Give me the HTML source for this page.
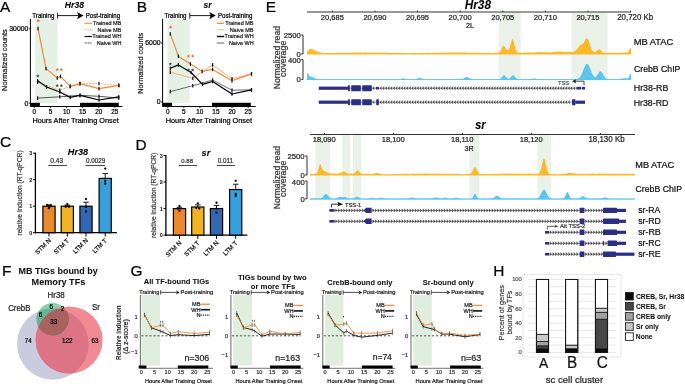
<!DOCTYPE html>
<html><head><meta charset="utf-8"><style>
html,body{margin:0;padding:0;background:#fff;width:685px;height:384px;overflow:hidden}
svg{display:block;will-change:transform}
text{font-family:"Liberation Sans", sans-serif;stroke:currentColor;stroke-width:0.22px}
text[font-weight=bold]{stroke-width:0.05px}
</style></head><body>
<svg width="685" height="384" viewBox="0 0 685 384">
<rect x="35.20" y="19.00" width="22.20" height="84.00" fill="#e5f1e4"/>
<text transform="translate(0.00,11.70) scale(1,1.0)" font-size="15.40" fill="#000" color="#000">A</text>
<text transform="translate(64.83,7.60) scale(1,1.04)" font-size="8.62" fill="#000" color="#000" font-weight="bold" font-style="italic">Hr38</text>
<text transform="translate(32.28,17.50) scale(1,1.04)" font-size="6.19" fill="#000" color="#000">Training</text>
<line x1="57.60" y1="12.80" x2="57.60" y2="18.60" stroke="#000" stroke-width="0.9"/>
<line x1="57.60" y1="15.60" x2="79.40" y2="15.60" stroke="#000" stroke-width="0.9"/>
<path d="M83.6,15.6 L77.0,12.0 L78.6,15.6 L77.0,19.2 Z" stroke="none" stroke-width="1" fill="#000"/>
<text transform="translate(85.71,17.50) scale(1,1.04)" font-size="6.14" fill="#000" color="#000">Post-training</text>
<line x1="30.40" y1="19.00" x2="30.40" y2="106.50" stroke="#000" stroke-width="1"/>
<line x1="30.40" y1="106.50" x2="122.40" y2="106.50" stroke="#000" stroke-width="1"/>
<rect x="30.40" y="102.80" width="9.50" height="3.90" fill="#000"/>
<rect x="80.00" y="102.80" width="38.80" height="3.90" fill="#000"/>
<text transform="translate(9.26,31.20) scale(1,1.04)" font-size="6.90" fill="#000" color="#000">30000</text>
<line x1="28.80" y1="28.80" x2="30.40" y2="28.80" stroke="#000" stroke-width="0.8"/>
<text transform="translate(24.61,105.60) scale(1,1.04)" font-size="6.90" fill="#000" color="#000">0</text>
<line x1="28.80" y1="103.20" x2="30.40" y2="103.20" stroke="#000" stroke-width="0.8"/>
<line x1="34.40" y1="106.50" x2="34.40" y2="108.20" stroke="#000" stroke-width="0.8"/>
<text transform="translate(32.61,114.40) scale(1,1.04)" font-size="6.40" fill="#000" color="#000">0</text>
<line x1="50.50" y1="106.50" x2="50.50" y2="108.20" stroke="#000" stroke-width="0.8"/>
<text transform="translate(48.72,114.40) scale(1,1.04)" font-size="6.40" fill="#000" color="#000">5</text>
<line x1="66.60" y1="106.50" x2="66.60" y2="108.20" stroke="#000" stroke-width="0.8"/>
<text transform="translate(62.92,114.40) scale(1,1.04)" font-size="6.40" fill="#000" color="#000">10</text>
<line x1="82.70" y1="106.50" x2="82.70" y2="108.20" stroke="#000" stroke-width="0.8"/>
<text transform="translate(79.04,114.40) scale(1,1.04)" font-size="6.40" fill="#000" color="#000">15</text>
<line x1="98.80" y1="106.50" x2="98.80" y2="108.20" stroke="#000" stroke-width="0.8"/>
<text transform="translate(95.20,114.40) scale(1,1.04)" font-size="6.40" fill="#000" color="#000">20</text>
<line x1="114.90" y1="106.50" x2="114.90" y2="108.20" stroke="#000" stroke-width="0.8"/>
<text transform="translate(111.32,114.40) scale(1,1.04)" font-size="6.40" fill="#000" color="#000">25</text>
<text transform="translate(32.41,123.00) scale(1,1.04)" font-size="7.35" fill="#000" color="#000">Hours After Training Onset</text>
<text transform="translate(3.90,59.90) rotate(-90) translate(-31.10,2.78) scale(1,1.04)" x="0" y="0" font-size="7.47" fill="#222" color="#222">Normalized counts</text>
<line x1="84.60" y1="23.30" x2="92.00" y2="23.30" stroke="#f08a3c" stroke-width="1.1"/>
<text transform="translate(93.06,25.20) scale(1,1.04)" font-size="5.50" fill="#222" color="#222">Trained MB</text>
<line x1="84.60" y1="29.80" x2="92.00" y2="29.80" stroke="#f5a86a" stroke-width="1.0" stroke-dasharray="1.2,0.6"/>
<text transform="translate(97.43,31.70) scale(1,1.04)" font-size="5.50" fill="#222" color="#222">Naive MB</text>
<line x1="84.60" y1="36.50" x2="92.00" y2="36.50" stroke="#000" stroke-width="1.2"/>
<text transform="translate(92.32,38.40) scale(1,1.04)" font-size="5.50" fill="#222" color="#222">Trained WH</text>
<line x1="84.60" y1="43.00" x2="92.00" y2="43.00" stroke="#888" stroke-width="1.3" stroke-dasharray="1.2,0.5"/>
<text transform="translate(96.69,44.90) scale(1,1.04)" font-size="5.50" fill="#222" color="#222">Naive WH</text>
<polyline points="37.60,82.20 59.80,90.20 70.20,86.40 80.00,83.60 99.00,83.60 118.80,85.40" stroke="#f5a86a" stroke-width="0.9" fill="none" stroke-linejoin="round" stroke-dasharray="2,1"/>
<rect x="37.00" y="80.40" width="1.20" height="3.60" fill="#111"/>
<rect x="59.20" y="88.40" width="1.20" height="3.60" fill="#111"/>
<rect x="69.60" y="84.60" width="1.20" height="3.60" fill="#111"/>
<rect x="79.40" y="81.80" width="1.20" height="3.60" fill="#111"/>
<rect x="98.40" y="81.80" width="1.20" height="3.60" fill="#111"/>
<rect x="118.20" y="83.60" width="1.20" height="3.60" fill="#111"/>
<polyline points="37.60,98.10 59.80,96.80 80.00,95.40 99.00,96.30 118.80,98.10" stroke="#222" stroke-width="0.75" fill="none" stroke-linejoin="round"/>
<rect x="37.00" y="96.30" width="1.20" height="3.60" fill="#111"/>
<rect x="59.20" y="95.00" width="1.20" height="3.60" fill="#111"/>
<rect x="79.40" y="93.60" width="1.20" height="3.60" fill="#111"/>
<rect x="98.40" y="94.50" width="1.20" height="3.60" fill="#111"/>
<rect x="118.20" y="96.30" width="1.20" height="3.60" fill="#111"/>
<polyline points="37.60,80.80 46.60,87.00 59.80,92.00 70.20,97.40 80.00,95.40 99.00,100.00 118.80,96.80" stroke="#000" stroke-width="1.2" fill="none" stroke-linejoin="round"/>
<rect x="37.00" y="79.00" width="1.20" height="3.60" fill="#111"/>
<rect x="46.00" y="85.20" width="1.20" height="3.60" fill="#111"/>
<rect x="59.20" y="90.20" width="1.20" height="3.60" fill="#111"/>
<rect x="69.60" y="95.60" width="1.20" height="3.60" fill="#111"/>
<rect x="79.40" y="93.60" width="1.20" height="3.60" fill="#111"/>
<rect x="98.40" y="98.20" width="1.20" height="3.60" fill="#111"/>
<rect x="118.20" y="95.00" width="1.20" height="3.60" fill="#111"/>
<polyline points="38.00,28.50 46.00,68.60 57.30,78.00 60.50,76.40 70.20,86.40 80.00,83.60 99.00,88.70 118.80,85.40" stroke="#f08a3c" stroke-width="1.2" fill="none" stroke-linejoin="round"/>
<rect x="37.40" y="26.70" width="1.20" height="3.60" fill="#111"/>
<rect x="45.40" y="66.80" width="1.20" height="3.60" fill="#111"/>
<rect x="56.70" y="76.20" width="1.20" height="3.60" fill="#111"/>
<rect x="59.90" y="74.60" width="1.20" height="3.60" fill="#111"/>
<rect x="69.60" y="84.60" width="1.20" height="3.60" fill="#111"/>
<rect x="79.40" y="81.80" width="1.20" height="3.60" fill="#111"/>
<rect x="98.40" y="86.90" width="1.20" height="3.60" fill="#111"/>
<rect x="118.20" y="83.60" width="1.20" height="3.60" fill="#111"/>
<polygon points="38.30,18.95 38.80,20.11 40.06,20.23 39.11,21.06 39.39,22.30 38.30,21.65 37.21,22.30 37.49,21.06 36.54,20.23 37.80,20.11" fill="#f26b2d"/>
<polygon points="57.20,67.75 57.70,68.91 58.96,69.03 58.01,69.86 58.29,71.10 57.20,70.45 56.11,71.10 56.39,69.86 55.44,69.03 56.70,68.91" fill="#f26b2d"/>
<polygon points="61.40,67.75 61.90,68.91 63.16,69.03 62.21,69.86 62.49,71.10 61.40,70.45 60.31,71.10 60.59,69.86 59.64,69.03 60.90,68.91" fill="#f26b2d"/>
<polygon points="37.80,74.15 38.30,75.31 39.56,75.43 38.61,76.26 38.89,77.50 37.80,76.85 36.71,77.50 36.99,76.26 36.04,75.43 37.30,75.31" fill="#444"/>
<polygon points="57.20,83.75 57.70,84.91 58.96,85.03 58.01,85.86 58.29,87.10 57.20,86.45 56.11,87.10 56.39,85.86 55.44,85.03 56.70,84.91" fill="#444"/>
<polygon points="61.40,83.75 61.90,84.91 63.16,85.03 62.21,85.86 62.49,87.10 61.40,86.45 60.31,87.10 60.59,85.86 59.64,85.03 60.90,84.91" fill="#444"/>
<rect x="167.40" y="19.00" width="22.20" height="84.00" fill="#e5f1e4"/>
<text transform="translate(136.77,11.70) scale(1,1.0)" font-size="15.40" fill="#000" color="#000">B</text>
<text transform="translate(203.51,7.60) scale(1,1.04)" font-size="8.57" fill="#000" color="#000" font-weight="bold" font-style="italic">sr</text>
<text transform="translate(164.48,17.50) scale(1,1.04)" font-size="6.19" fill="#000" color="#000">Training</text>
<line x1="189.80" y1="12.80" x2="189.80" y2="18.60" stroke="#000" stroke-width="0.9"/>
<line x1="189.80" y1="15.60" x2="211.60" y2="15.60" stroke="#000" stroke-width="0.9"/>
<path d="M215.8,15.6 L209.2,12.0 L210.8,15.6 L209.2,19.2 Z" stroke="none" stroke-width="1" fill="#000"/>
<text transform="translate(217.91,17.50) scale(1,1.04)" font-size="6.14" fill="#000" color="#000">Post-training</text>
<line x1="162.60" y1="19.00" x2="162.60" y2="106.50" stroke="#000" stroke-width="1"/>
<line x1="162.60" y1="106.50" x2="255.70" y2="106.50" stroke="#000" stroke-width="1"/>
<rect x="162.60" y="102.80" width="9.50" height="3.90" fill="#000"/>
<rect x="212.00" y="102.80" width="38.80" height="3.90" fill="#000"/>
<text transform="translate(145.29,45.30) scale(1,1.04)" font-size="6.90" fill="#000" color="#000">6000</text>
<line x1="161.00" y1="42.90" x2="162.60" y2="42.90" stroke="#000" stroke-width="0.8"/>
<text transform="translate(156.81,104.40) scale(1,1.04)" font-size="6.90" fill="#000" color="#000">0</text>
<line x1="161.00" y1="102.00" x2="162.60" y2="102.00" stroke="#000" stroke-width="0.8"/>
<line x1="167.70" y1="106.50" x2="167.70" y2="108.20" stroke="#000" stroke-width="0.8"/>
<text transform="translate(165.91,114.40) scale(1,1.04)" font-size="6.40" fill="#000" color="#000">0</text>
<line x1="183.80" y1="106.50" x2="183.80" y2="108.20" stroke="#000" stroke-width="0.8"/>
<text transform="translate(182.02,114.40) scale(1,1.04)" font-size="6.40" fill="#000" color="#000">5</text>
<line x1="199.90" y1="106.50" x2="199.90" y2="108.20" stroke="#000" stroke-width="0.8"/>
<text transform="translate(196.22,114.40) scale(1,1.04)" font-size="6.40" fill="#000" color="#000">10</text>
<line x1="216.00" y1="106.50" x2="216.00" y2="108.20" stroke="#000" stroke-width="0.8"/>
<text transform="translate(212.34,114.40) scale(1,1.04)" font-size="6.40" fill="#000" color="#000">15</text>
<line x1="232.10" y1="106.50" x2="232.10" y2="108.20" stroke="#000" stroke-width="0.8"/>
<text transform="translate(228.50,114.40) scale(1,1.04)" font-size="6.40" fill="#000" color="#000">20</text>
<line x1="248.20" y1="106.50" x2="248.20" y2="108.20" stroke="#000" stroke-width="0.8"/>
<text transform="translate(244.62,114.40) scale(1,1.04)" font-size="6.40" fill="#000" color="#000">25</text>
<text transform="translate(165.71,123.00) scale(1,1.04)" font-size="7.35" fill="#000" color="#000">Hours After Training Onset</text>
<text transform="translate(140.00,63.00) rotate(-90) translate(-30.69,2.74) scale(1,1.04)" x="0" y="0" font-size="7.37" fill="#222" color="#222">Normalized counts</text>
<line x1="216.80" y1="23.30" x2="224.20" y2="23.30" stroke="#f08a3c" stroke-width="1.3"/>
<text transform="translate(225.26,25.20) scale(1,1.04)" font-size="5.50" fill="#222" color="#222">Trained MB</text>
<line x1="216.80" y1="29.80" x2="224.20" y2="29.80" stroke="#f5a86a" stroke-width="0.8"/>
<text transform="translate(229.63,31.70) scale(1,1.04)" font-size="5.50" fill="#222" color="#222">Naive MB</text>
<line x1="216.80" y1="36.50" x2="224.20" y2="36.50" stroke="#000" stroke-width="1.4"/>
<text transform="translate(224.52,38.40) scale(1,1.04)" font-size="5.50" fill="#222" color="#222">Trained WH</text>
<line x1="216.80" y1="43.00" x2="224.20" y2="43.00" stroke="#222" stroke-width="0.7"/>
<text transform="translate(228.89,44.90) scale(1,1.04)" font-size="5.50" fill="#222" color="#222">Naive WH</text>
<polyline points="170.30,72.20 192.80,78.30 212.60,64.90 232.00,78.70 251.50,73.90" stroke="#f5a86a" stroke-width="0.9" fill="none" stroke-linejoin="round"/>
<rect x="169.70" y="70.40" width="1.20" height="3.60" fill="#111"/>
<rect x="192.20" y="76.50" width="1.20" height="3.60" fill="#111"/>
<rect x="212.00" y="63.10" width="1.20" height="3.60" fill="#111"/>
<rect x="231.40" y="76.90" width="1.20" height="3.60" fill="#111"/>
<rect x="250.90" y="72.10" width="1.20" height="3.60" fill="#111"/>
<polyline points="170.30,91.60 192.80,85.70 212.60,80.10 232.00,90.20 251.50,89.80" stroke="#333" stroke-width="0.7" fill="none" stroke-linejoin="round"/>
<rect x="169.70" y="89.80" width="1.20" height="3.60" fill="#111"/>
<rect x="192.20" y="83.90" width="1.20" height="3.60" fill="#111"/>
<rect x="212.00" y="78.30" width="1.20" height="3.60" fill="#111"/>
<rect x="231.40" y="88.40" width="1.20" height="3.60" fill="#111"/>
<rect x="250.90" y="88.00" width="1.20" height="3.60" fill="#111"/>
<polyline points="170.30,68.30 178.40,64.90 191.10,72.50 202.50,84.30 212.60,81.50 232.00,94.00 251.50,89.80" stroke="#000" stroke-width="1.2" fill="none" stroke-linejoin="round"/>
<rect x="169.70" y="66.50" width="1.20" height="3.60" fill="#111"/>
<rect x="177.80" y="63.10" width="1.20" height="3.60" fill="#111"/>
<rect x="190.50" y="70.70" width="1.20" height="3.60" fill="#111"/>
<rect x="201.90" y="82.50" width="1.20" height="3.60" fill="#111"/>
<rect x="212.00" y="79.70" width="1.20" height="3.60" fill="#111"/>
<rect x="231.40" y="92.20" width="1.20" height="3.60" fill="#111"/>
<rect x="250.90" y="88.00" width="1.20" height="3.60" fill="#111"/>
<polyline points="170.30,33.90 178.40,56.30 190.40,64.10 202.20,71.40 212.60,69.40 232.00,80.80 251.50,73.90" stroke="#f08a3c" stroke-width="1.2" fill="none" stroke-linejoin="round"/>
<rect x="169.70" y="32.10" width="1.20" height="3.60" fill="#111"/>
<rect x="177.80" y="54.50" width="1.20" height="3.60" fill="#111"/>
<rect x="189.80" y="62.30" width="1.20" height="3.60" fill="#111"/>
<rect x="201.60" y="69.60" width="1.20" height="3.60" fill="#111"/>
<rect x="212.00" y="67.60" width="1.20" height="3.60" fill="#111"/>
<rect x="231.40" y="79.00" width="1.20" height="3.60" fill="#111"/>
<rect x="250.90" y="72.10" width="1.20" height="3.60" fill="#111"/>
<polygon points="170.60,25.35 171.10,26.51 172.36,26.63 171.41,27.46 171.69,28.70 170.60,28.05 169.51,28.70 169.79,27.46 168.84,26.63 170.10,26.51" fill="#f26b2d"/>
<polygon points="188.50,54.35 189.00,55.51 190.26,55.63 189.31,56.46 189.59,57.70 188.50,57.05 187.41,57.70 187.69,56.46 186.74,55.63 188.00,55.51" fill="#f26b2d"/>
<polygon points="192.70,54.35 193.20,55.51 194.46,55.63 193.51,56.46 193.79,57.70 192.70,57.05 191.61,57.70 191.89,56.46 190.94,55.63 192.20,55.51" fill="#f26b2d"/>
<polygon points="170.40,62.15 170.90,63.31 172.16,63.43 171.21,64.26 171.49,65.50 170.40,64.85 169.31,65.50 169.59,64.26 168.64,63.43 169.90,63.31" fill="#444"/>
<polygon points="188.50,68.15 189.00,69.31 190.26,69.43 189.31,70.26 189.59,71.50 188.50,70.85 187.41,71.50 187.69,70.26 186.74,69.43 188.00,69.31" fill="#444"/>
<polygon points="192.70,68.15 193.20,69.31 194.46,69.43 193.51,70.26 193.79,71.50 192.70,70.85 191.61,71.50 191.89,70.26 190.94,69.43 192.20,69.31" fill="#444"/>
<text transform="translate(265.77,12.10) scale(1,1.0)" font-size="15.40" fill="#000" color="#000">E</text>
<rect x="499.00" y="12.50" width="21.60" height="67.00" fill="#eaf1e8"/>
<rect x="571.60" y="12.50" width="36.00" height="67.00" fill="#eaf1e8"/>
<text transform="translate(464.76,8.60) scale(1,1.04)" font-size="11.79" fill="#000" color="#000" font-weight="bold" font-style="italic">Hr38</text>
<line x1="307.00" y1="12.00" x2="631.00" y2="12.00" stroke="#333" stroke-width="1"/>
<line x1="332.40" y1="10.60" x2="332.40" y2="12.00" stroke="#222" stroke-width="0.95"/>
<text transform="translate(320.81,20.20) scale(1,1.04)" font-size="7.55" fill="#222" color="#222">20,685</text>
<line x1="375.00" y1="10.60" x2="375.00" y2="12.00" stroke="#222" stroke-width="0.95"/>
<text transform="translate(363.39,20.20) scale(1,1.04)" font-size="7.55" fill="#222" color="#222">20,690</text>
<line x1="417.60" y1="10.60" x2="417.60" y2="12.00" stroke="#222" stroke-width="0.95"/>
<text transform="translate(406.01,20.20) scale(1,1.04)" font-size="7.55" fill="#222" color="#222">20,695</text>
<line x1="460.20" y1="10.60" x2="460.20" y2="12.00" stroke="#222" stroke-width="0.95"/>
<text transform="translate(448.59,20.20) scale(1,1.04)" font-size="7.55" fill="#222" color="#222">20,700</text>
<line x1="502.80" y1="10.60" x2="502.80" y2="12.00" stroke="#222" stroke-width="0.95"/>
<text transform="translate(491.21,20.20) scale(1,1.04)" font-size="7.55" fill="#222" color="#222">20,705</text>
<line x1="545.40" y1="10.60" x2="545.40" y2="12.00" stroke="#222" stroke-width="0.95"/>
<text transform="translate(533.79,20.20) scale(1,1.04)" font-size="7.55" fill="#222" color="#222">20,710</text>
<line x1="588.00" y1="10.60" x2="588.00" y2="12.00" stroke="#222" stroke-width="0.95"/>
<text transform="translate(576.41,20.20) scale(1,1.04)" font-size="7.55" fill="#222" color="#222">20,715</text>
<line x1="630.60" y1="10.60" x2="630.60" y2="12.00" stroke="#222" stroke-width="0.95"/>
<text transform="translate(617.20,20.20) scale(1,1.04)" font-size="7.92" fill="#222" color="#222">20,720 Kb</text>
<text transform="translate(465.93,28.20) scale(1,1.04)" font-size="7.20" fill="#222" color="#222">2L</text>
<line x1="303.00" y1="35.00" x2="303.00" y2="54.00" stroke="#222" stroke-width="0.95"/>
<line x1="301.20" y1="35.00" x2="303.00" y2="35.00" stroke="#222" stroke-width="0.95"/>
<line x1="301.20" y1="54.00" x2="303.00" y2="54.00" stroke="#222" stroke-width="0.95"/>
<text transform="translate(283.74,37.70) scale(1,1.04)" font-size="7.70" fill="#222" color="#222">2500</text>
<text transform="translate(296.60,56.60) scale(1,1.04)" font-size="7.70" fill="#222" color="#222">0</text>
<line x1="303.00" y1="59.50" x2="303.00" y2="79.40" stroke="#222" stroke-width="0.95"/>
<line x1="301.20" y1="59.50" x2="303.00" y2="59.50" stroke="#222" stroke-width="0.95"/>
<line x1="301.20" y1="79.40" x2="303.00" y2="79.40" stroke="#222" stroke-width="0.95"/>
<text transform="translate(288.05,63.10) scale(1,1.04)" font-size="7.70" fill="#222" color="#222">400</text>
<text transform="translate(296.60,82.20) scale(1,1.04)" font-size="7.70" fill="#222" color="#222">0</text>
<text transform="translate(276.60,57.50) rotate(-90) translate(-31.69,3.21) scale(1,1.04)" x="0" y="0" font-size="8.62" fill="#333" color="#333">Normalized read</text>
<text transform="translate(284.30,58.80) rotate(-90) translate(-18.10,1.51) scale(1,1.04)" x="0" y="0" font-size="8.81" fill="#333" color="#333">coverage</text>
<path d="M307.00,54.60 L307.00,51.77 L307.50,51.10 L308.00,50.71 L308.50,50.46 L309.00,49.93 L309.50,49.55 L310.00,49.14 L310.50,48.87 L311.00,49.05 L311.50,49.09 L312.00,48.89 L312.50,49.26 L313.00,49.41 L313.50,50.02 L314.00,50.16 L314.50,50.34 L315.00,50.81 L315.50,50.76 L316.00,50.98 L316.50,51.51 L317.00,51.68 L317.50,51.62 L318.00,51.60 L318.50,51.96 L319.00,52.17 L319.50,52.22 L320.00,52.51 L320.50,52.55 L321.00,52.57 L321.50,52.65 L322.00,52.84 L322.50,52.91 L323.00,52.98 L323.50,52.93 L324.00,53.04 L324.50,53.17 L325.00,52.86 L325.50,52.99 L326.00,52.96 L326.50,53.16 L327.00,52.83 L327.50,52.89 L328.00,53.18 L328.50,53.10 L329.00,52.93 L329.50,52.94 L330.00,52.84 L330.50,53.04 L331.00,52.87 L331.50,52.93 L332.00,53.07 L332.50,52.95 L333.00,52.83 L333.50,52.84 L334.00,52.97 L334.50,52.93 L335.00,53.14 L335.50,53.05 L336.00,52.82 L336.50,52.97 L337.00,53.06 L337.50,52.90 L338.00,52.83 L338.50,52.83 L339.00,52.94 L339.50,52.91 L340.00,52.87 L340.50,52.75 L341.00,52.85 L341.50,52.89 L342.00,52.84 L342.50,53.02 L343.00,53.00 L343.50,52.73 L344.00,52.60 L344.50,52.75 L345.00,52.82 L345.50,52.90 L346.00,52.76 L346.50,52.56 L347.00,52.63 L347.50,52.72 L348.00,52.58 L348.50,52.82 L349.00,52.70 L349.50,52.51 L350.00,52.66 L350.50,52.70 L351.00,52.76 L351.50,52.64 L352.00,52.47 L352.50,52.85 L353.00,52.52 L353.50,52.50 L354.00,52.47 L354.50,52.52 L355.00,52.48 L355.50,52.59 L356.00,52.57 L356.50,52.62 L357.00,52.76 L357.50,52.42 L358.00,52.54 L358.50,52.69 L359.00,52.56 L359.50,52.56 L360.00,52.61 L360.50,52.61 L361.00,52.52 L361.50,52.49 L362.00,52.49 L362.50,52.55 L363.00,52.72 L363.50,52.63 L364.00,52.65 L364.50,52.49 L365.00,52.37 L365.50,52.40 L366.00,52.40 L366.50,52.39 L367.00,52.61 L367.50,52.38 L368.00,52.45 L368.50,52.68 L369.00,52.71 L369.50,52.72 L370.00,52.42 L370.50,52.62 L371.00,52.68 L371.50,52.48 L372.00,52.59 L372.50,52.71 L373.00,52.67 L373.50,52.53 L374.00,52.68 L374.50,52.64 L375.00,52.47 L375.50,52.58 L376.00,52.64 L376.50,52.58 L377.00,52.77 L377.50,52.63 L378.00,52.62 L378.50,52.72 L379.00,52.76 L379.50,52.45 L380.00,52.61 L380.50,52.74 L381.00,52.59 L381.50,52.51 L382.00,52.84 L382.50,52.85 L383.00,52.81 L383.50,52.58 L384.00,52.82 L384.50,52.61 L385.00,52.63 L385.50,52.69 L386.00,52.83 L386.50,52.53 L387.00,52.61 L387.50,52.74 L388.00,52.87 L388.50,52.70 L389.00,52.82 L389.50,52.75 L390.00,52.86 L390.50,52.75 L391.00,52.99 L391.50,52.90 L392.00,52.64 L392.50,52.69 L393.00,52.93 L393.50,52.71 L394.00,52.94 L394.50,52.70 L395.00,52.79 L395.50,52.93 L396.00,53.00 L396.50,53.11 L397.00,52.76 L397.50,53.11 L398.00,52.80 L398.50,52.75 L399.00,52.92 L399.50,53.09 L400.00,52.82 L400.50,52.78 L401.00,52.90 L401.50,52.98 L402.00,53.04 L402.50,53.06 L403.00,53.12 L403.50,52.94 L404.00,53.04 L404.50,53.14 L405.00,53.18 L405.50,52.96 L406.00,53.11 L406.50,53.03 L407.00,53.11 L407.50,52.89 L408.00,52.88 L408.50,53.24 L409.00,53.17 L409.50,53.12 L410.00,52.85 L410.50,52.94 L411.00,53.12 L411.50,53.17 L412.00,52.98 L412.50,52.92 L413.00,52.88 L413.50,53.12 L414.00,52.90 L414.50,52.98 L415.00,53.06 L415.50,52.85 L416.00,53.15 L416.50,52.95 L417.00,53.21 L417.50,53.17 L418.00,52.87 L418.50,53.14 L419.00,52.92 L419.50,52.98 L420.00,52.88 L420.50,53.06 L421.00,53.07 L421.50,53.08 L422.00,52.84 L422.50,52.94 L423.00,52.80 L423.50,52.82 L424.00,53.11 L424.50,52.94 L425.00,53.11 L425.50,53.13 L426.00,53.11 L426.50,52.78 L427.00,52.80 L427.50,52.78 L428.00,52.97 L428.50,52.85 L429.00,52.77 L429.50,52.93 L430.00,52.84 L430.50,52.97 L431.00,53.02 L431.50,52.94 L432.00,52.67 L432.50,52.80 L433.00,52.64 L433.50,52.82 L434.00,52.88 L434.50,52.67 L435.00,52.64 L435.50,52.96 L436.00,52.69 L436.50,52.91 L437.00,52.89 L437.50,52.57 L438.00,52.91 L438.50,52.82 L439.00,52.50 L439.50,52.72 L440.00,52.84 L440.50,52.81 L441.00,52.77 L441.50,52.56 L442.00,52.81 L442.50,52.48 L443.00,52.68 L443.50,52.44 L444.00,52.45 L444.50,52.69 L445.00,52.70 L445.50,52.61 L446.00,52.75 L446.50,52.52 L447.00,52.76 L447.50,52.77 L448.00,52.37 L448.50,52.64 L449.00,52.52 L449.50,52.57 L450.00,52.62 L450.50,52.72 L451.00,52.37 L451.50,52.34 L452.00,52.34 L452.50,52.69 L453.00,52.64 L453.50,52.48 L454.00,52.33 L454.50,52.50 L455.00,52.44 L455.50,52.45 L456.00,52.61 L456.50,52.50 L457.00,52.59 L457.50,52.62 L458.00,52.69 L458.50,52.61 L459.00,52.32 L459.50,52.54 L460.00,52.46 L460.50,52.47 L461.00,52.35 L461.50,52.57 L462.00,52.61 L462.50,52.61 L463.00,52.61 L463.50,52.40 L464.00,52.39 L464.50,52.63 L465.00,52.62 L465.50,52.54 L466.00,52.54 L466.50,52.53 L467.00,52.68 L467.50,52.78 L468.00,52.70 L468.50,52.77 L469.00,52.58 L469.50,52.79 L470.00,52.79 L470.50,52.57 L471.00,52.72 L471.50,52.52 L472.00,52.65 L472.50,52.51 L473.00,52.81 L473.50,52.68 L474.00,52.57 L474.50,52.87 L475.00,52.52 L475.50,52.84 L476.00,52.61 L476.50,52.53 L477.00,52.61 L477.50,52.82 L478.00,52.92 L478.50,52.76 L479.00,52.61 L479.50,52.87 L480.00,52.64 L480.50,52.95 L481.00,52.65 L481.50,53.01 L482.00,52.91 L482.50,52.68 L483.00,52.73 L483.50,52.70 L484.00,52.73 L484.50,52.78 L485.00,52.81 L485.50,53.03 L486.00,52.93 L486.50,53.05 L487.00,52.83 L487.50,52.86 L488.00,53.04 L488.50,53.12 L489.00,52.76 L489.50,52.83 L490.00,52.94 L490.50,52.95 L491.00,52.82 L491.50,52.99 L492.00,53.01 L492.50,53.03 L493.00,53.05 L493.50,53.14 L494.00,52.87 L494.50,52.94 L495.00,52.86 L495.50,53.03 L496.00,52.87 L496.50,52.91 L497.00,52.85 L497.50,52.72 L498.00,52.40 L498.50,52.45 L499.00,52.27 L499.50,51.91 L500.00,51.65 L500.50,51.12 L501.00,50.04 L501.50,48.97 L502.00,47.73 L502.50,46.72 L503.00,45.83 L503.50,45.51 L504.00,45.94 L504.50,46.50 L505.00,47.41 L505.50,48.44 L506.00,49.14 L506.50,49.65 L507.00,49.84 L507.50,49.95 L508.00,50.11 L508.50,49.61 L509.00,49.19 L509.50,48.14 L510.00,46.51 L510.50,44.57 L511.00,42.90 L511.50,40.85 L512.00,39.49 L512.50,39.21 L513.00,39.49 L513.50,40.72 L514.00,42.84 L514.50,44.90 L515.00,47.02 L515.50,48.90 L516.00,50.19 L516.50,51.16 L517.00,51.76 L517.50,52.30 L518.00,52.67 L518.50,52.76 L519.00,52.83 L519.50,52.73 L520.00,52.67 L520.50,52.97 L521.00,52.72 L521.50,52.71 L522.00,52.86 L522.50,52.79 L523.00,52.93 L523.50,52.70 L524.00,52.97 L524.50,52.58 L525.00,52.64 L525.50,52.71 L526.00,52.84 L526.50,52.57 L527.00,52.54 L527.50,52.87 L528.00,52.60 L528.50,52.56 L529.00,52.62 L529.50,52.59 L530.00,52.68 L530.50,52.46 L531.00,52.42 L531.50,52.64 L532.00,52.44 L532.50,52.56 L533.00,52.64 L533.50,52.53 L534.00,52.57 L534.50,52.21 L535.00,52.14 L535.50,52.43 L536.00,52.18 L536.50,52.21 L537.00,52.28 L537.50,52.16 L538.00,52.14 L538.50,51.90 L539.00,52.17 L539.50,52.08 L540.00,51.97 L540.50,52.14 L541.00,51.90 L541.50,51.93 L542.00,51.86 L542.50,52.15 L543.00,52.15 L543.50,52.09 L544.00,52.24 L544.50,52.16 L545.00,52.33 L545.50,52.19 L546.00,52.18 L546.50,52.20 L547.00,52.15 L547.50,52.34 L548.00,52.37 L548.50,52.23 L549.00,52.26 L549.50,52.32 L550.00,52.38 L550.50,52.40 L551.00,52.43 L551.50,52.11 L552.00,52.35 L552.50,52.04 L553.00,52.07 L553.50,51.84 L554.00,51.86 L554.50,51.71 L555.00,51.98 L555.50,51.76 L556.00,51.67 L556.50,51.71 L557.00,51.58 L557.50,51.58 L558.00,51.47 L558.50,51.65 L559.00,51.45 L559.50,51.43 L560.00,51.49 L560.50,51.46 L561.00,51.33 L561.50,51.40 L562.00,51.52 L562.50,51.51 L563.00,51.68 L563.50,51.81 L564.00,51.96 L564.50,51.91 L565.00,51.85 L565.50,51.80 L566.00,51.88 L566.50,52.06 L567.00,51.91 L567.50,52.16 L568.00,52.04 L568.50,52.23 L569.00,52.11 L569.50,52.01 L570.00,52.27 L570.50,52.30 L571.00,52.09 L571.50,52.08 L572.00,52.09 L572.50,52.15 L573.00,51.90 L573.50,51.77 L574.00,51.63 L574.50,51.24 L575.00,51.10 L575.50,50.71 L576.00,50.23 L576.50,49.79 L577.00,49.31 L577.50,48.55 L578.00,47.88 L578.50,47.16 L579.00,46.49 L579.50,45.98 L580.00,45.40 L580.50,45.03 L581.00,44.63 L581.50,44.48 L582.00,44.24 L582.50,43.97 L583.00,43.52 L583.50,42.99 L584.00,42.30 L584.50,41.41 L585.00,40.25 L585.50,39.27 L586.00,38.68 L586.50,38.42 L587.00,38.11 L587.50,38.65 L588.00,39.46 L588.50,40.78 L589.00,42.00 L589.50,43.45 L590.00,45.14 L590.50,46.65 L591.00,47.86 L591.50,49.26 L592.00,49.99 L592.50,50.53 L593.00,51.17 L593.50,51.67 L594.00,51.79 L594.50,51.94 L595.00,52.09 L595.50,51.96 L596.00,51.44 L596.50,51.32 L597.00,50.95 L597.50,50.16 L598.00,49.84 L598.50,49.57 L599.00,49.35 L599.50,49.30 L600.00,49.78 L600.50,50.00 L601.00,50.49 L601.50,50.98 L602.00,51.70 L602.50,51.99 L603.00,52.46 L603.50,52.56 L604.00,52.87 L604.50,52.71 L605.00,52.73 L605.50,52.97 L606.00,53.02 L606.50,52.72 L607.00,52.82 L607.50,52.76 L608.00,53.08 L608.50,52.72 L609.00,52.83 L609.50,52.94 L610.00,52.89 L610.50,52.74 L611.00,52.73 L611.50,52.96 L612.00,52.77 L612.50,52.95 L613.00,52.61 L613.50,52.82 L614.00,52.62 L614.50,52.68 L615.00,52.72 L615.50,52.85 L616.00,52.74 L616.50,52.88 L617.00,52.88 L617.50,52.63 L618.00,52.77 L618.50,52.60 L619.00,52.80 L619.50,52.60 L620.00,52.59 L620.50,52.75 L621.00,52.82 L621.50,52.69 L622.00,52.65 L622.50,52.80 L623.00,52.75 L623.50,52.80 L624.00,52.57 L624.50,52.45 L625.00,52.71 L625.50,52.78 L626.00,52.50 L626.50,52.45 L627.00,52.36 L627.50,52.40 L628.00,52.22 L628.50,51.36 L629.00,50.52 L629.50,48.95 L630.00,48.30 L630.50,48.28 L631.00,49.27 L631.00,54.60 Z" stroke="none" stroke-width="1" fill="#fbb829"/>
<path d="M307.00,80.00 L307.00,73.72 L307.50,73.05 L308.00,73.30 L308.50,74.16 L309.00,75.18 L309.50,76.02 L310.00,76.49 L310.50,76.66 L311.00,76.66 L311.50,76.67 L312.00,76.74 L312.50,76.91 L313.00,77.12 L313.50,77.41 L314.00,77.71 L314.50,78.00 L315.00,78.30 L315.50,78.57 L316.00,78.78 L316.50,78.95 L317.00,79.08 L317.50,79.16 L318.00,79.20 L318.50,79.24 L319.00,79.26 L319.50,79.25 L320.00,79.28 L320.50,79.28 L321.00,79.29 L321.50,79.30 L322.00,79.29 L322.50,79.30 L323.00,79.28 L323.50,79.26 L324.00,79.27 L324.50,79.29 L325.00,79.26 L325.50,79.26 L326.00,79.26 L326.50,79.25 L327.00,79.26 L327.50,79.26 L328.00,79.28 L328.50,79.25 L329.00,79.25 L329.50,79.28 L330.00,79.25 L330.50,79.26 L331.00,79.27 L331.50,79.26 L332.00,79.26 L332.50,79.24 L333.00,79.26 L333.50,79.24 L334.00,79.26 L334.50,79.24 L335.00,79.24 L335.50,79.26 L336.00,79.25 L336.50,79.23 L337.00,79.24 L337.50,79.25 L338.00,79.26 L338.50,79.26 L339.00,79.24 L339.50,79.26 L340.00,79.23 L340.50,79.26 L341.00,79.23 L341.50,79.25 L342.00,79.22 L342.50,79.23 L343.00,79.24 L343.50,79.24 L344.00,79.23 L344.50,79.24 L345.00,79.25 L345.50,79.25 L346.00,79.24 L346.50,79.22 L347.00,79.23 L347.50,79.26 L348.00,79.22 L348.50,79.23 L349.00,79.22 L349.50,79.25 L350.00,79.22 L350.50,79.26 L351.00,79.23 L351.50,79.25 L352.00,79.25 L352.50,79.22 L353.00,79.25 L353.50,79.23 L354.00,79.22 L354.50,79.25 L355.00,79.25 L355.50,79.22 L356.00,79.24 L356.50,79.23 L357.00,79.26 L357.50,79.24 L358.00,79.25 L358.50,79.23 L359.00,79.26 L359.50,79.22 L360.00,79.26 L360.50,79.23 L361.00,79.26 L361.50,79.25 L362.00,79.23 L362.50,79.26 L363.00,79.26 L363.50,79.23 L364.00,79.25 L364.50,79.26 L365.00,79.22 L365.50,79.26 L366.00,79.27 L366.50,79.25 L367.00,79.24 L367.50,79.24 L368.00,79.27 L368.50,79.26 L369.00,79.27 L369.50,79.26 L370.00,79.24 L370.50,79.24 L371.00,79.24 L371.50,79.25 L372.00,79.24 L372.50,79.25 L373.00,79.26 L373.50,79.27 L374.00,79.25 L374.50,79.27 L375.00,79.28 L375.50,79.27 L376.00,79.25 L376.50,79.28 L377.00,79.26 L377.50,79.27 L378.00,79.27 L378.50,79.29 L379.00,79.25 L379.50,79.28 L380.00,79.27 L380.50,79.28 L381.00,79.30 L381.50,79.27 L382.00,79.29 L382.50,79.30 L383.00,79.30 L383.50,79.30 L384.00,79.30 L384.50,79.28 L385.00,79.28 L385.50,79.26 L386.00,79.27 L386.50,79.26 L387.00,79.30 L387.50,79.29 L388.00,79.30 L388.50,79.28 L389.00,79.28 L389.50,79.28 L390.00,79.28 L390.50,79.30 L391.00,79.30 L391.50,79.29 L392.00,79.31 L392.50,79.31 L393.00,79.30 L393.50,79.31 L394.00,79.28 L394.50,79.31 L395.00,79.31 L395.50,79.31 L396.00,79.31 L396.50,79.31 L397.00,79.29 L397.50,79.30 L398.00,79.30 L398.50,79.29 L399.00,79.31 L399.50,79.27 L400.00,79.26 L400.50,79.24 L401.00,79.18 L401.50,79.03 L402.00,78.80 L402.50,78.53 L403.00,78.24 L403.50,78.10 L404.00,78.17 L404.50,78.40 L405.00,78.67 L405.50,78.95 L406.00,79.13 L406.50,79.21 L407.00,79.26 L407.50,79.29 L408.00,79.26 L408.50,79.29 L409.00,79.31 L409.50,79.28 L410.00,79.30 L410.50,79.29 L411.00,79.27 L411.50,79.27 L412.00,79.30 L412.50,79.28 L413.00,79.28 L413.50,79.27 L414.00,79.28 L414.50,79.24 L415.00,79.22 L415.50,79.15 L416.00,79.04 L416.50,78.87 L417.00,78.72 L417.50,78.46 L418.00,78.25 L418.50,78.03 L419.00,77.91 L419.50,77.87 L420.00,77.93 L420.50,78.11 L421.00,78.34 L421.50,78.57 L422.00,78.79 L422.50,78.93 L423.00,79.06 L423.50,79.13 L424.00,79.20 L424.50,79.25 L425.00,79.24 L425.50,79.24 L426.00,79.24 L426.50,79.25 L427.00,79.26 L427.50,79.25 L428.00,79.24 L428.50,79.26 L429.00,79.25 L429.50,79.25 L430.00,79.23 L430.50,79.23 L431.00,79.23 L431.50,79.23 L432.00,79.25 L432.50,79.25 L433.00,79.24 L433.50,79.25 L434.00,79.24 L434.50,79.23 L435.00,79.22 L435.50,79.23 L436.00,79.22 L436.50,79.26 L437.00,79.24 L437.50,79.21 L438.00,79.25 L438.50,79.24 L439.00,79.26 L439.50,79.25 L440.00,79.22 L440.50,79.21 L441.00,79.23 L441.50,79.25 L442.00,79.24 L442.50,79.25 L443.00,79.23 L443.50,79.23 L444.00,79.24 L444.50,79.23 L445.00,79.25 L445.50,79.23 L446.00,79.22 L446.50,79.22 L447.00,79.25 L447.50,79.24 L448.00,79.23 L448.50,79.25 L449.00,79.22 L449.50,79.24 L450.00,79.23 L450.50,79.24 L451.00,79.22 L451.50,79.23 L452.00,79.24 L452.50,79.26 L453.00,79.24 L453.50,79.26 L454.00,79.23 L454.50,79.20 L455.00,79.18 L455.50,79.05 L456.00,78.88 L456.50,78.72 L457.00,78.64 L457.50,78.70 L458.00,78.88 L458.50,79.06 L459.00,79.14 L459.50,79.22 L460.00,79.21 L460.50,79.20 L461.00,79.16 L461.50,79.09 L462.00,79.02 L462.50,78.87 L463.00,78.69 L463.50,78.44 L464.00,78.15 L464.50,77.86 L465.00,77.60 L465.50,77.33 L466.00,77.14 L466.50,77.05 L467.00,77.10 L467.50,77.23 L468.00,77.50 L468.50,77.74 L469.00,78.05 L469.50,78.35 L470.00,78.59 L470.50,78.80 L471.00,79.00 L471.50,79.08 L472.00,79.16 L472.50,79.23 L473.00,79.24 L473.50,79.26 L474.00,79.29 L474.50,79.27 L475.00,79.30 L475.50,79.28 L476.00,79.29 L476.50,79.30 L477.00,79.28 L477.50,79.29 L478.00,79.30 L478.50,79.27 L479.00,79.31 L479.50,79.31 L480.00,79.29 L480.50,79.28 L481.00,79.28 L481.50,79.28 L482.00,79.29 L482.50,79.29 L483.00,79.30 L483.50,79.30 L484.00,79.29 L484.50,79.32 L485.00,79.31 L485.50,79.28 L486.00,79.31 L486.50,79.28 L487.00,79.28 L487.50,79.30 L488.00,79.29 L488.50,79.28 L489.00,79.28 L489.50,79.31 L490.00,79.31 L490.50,79.30 L491.00,79.30 L491.50,79.30 L492.00,79.32 L492.50,79.29 L493.00,79.27 L493.50,79.30 L494.00,79.29 L494.50,79.30 L495.00,79.29 L495.50,79.27 L496.00,79.30 L496.50,79.28 L497.00,79.29 L497.50,79.28 L498.00,79.25 L498.50,79.27 L499.00,79.19 L499.50,79.12 L500.00,78.94 L500.50,78.67 L501.00,78.28 L501.50,77.76 L502.00,77.11 L502.50,76.47 L503.00,75.85 L503.50,75.43 L504.00,75.28 L504.50,75.41 L505.00,75.83 L505.50,76.44 L506.00,77.12 L506.50,77.74 L507.00,78.23 L507.50,78.59 L508.00,78.76 L508.50,78.75 L509.00,78.66 L509.50,78.35 L510.00,77.96 L510.50,77.43 L511.00,76.84 L511.50,76.26 L512.00,75.73 L512.50,75.40 L513.00,75.26 L513.50,75.39 L514.00,75.71 L514.50,76.22 L515.00,76.83 L515.50,77.42 L516.00,77.93 L516.50,78.39 L517.00,78.73 L517.50,78.94 L518.00,79.09 L518.50,79.15 L519.00,79.21 L519.50,79.23 L520.00,79.22 L520.50,79.25 L521.00,79.23 L521.50,79.24 L522.00,79.25 L522.50,79.23 L523.00,79.25 L523.50,79.22 L524.00,79.22 L524.50,79.24 L525.00,79.23 L525.50,79.22 L526.00,79.23 L526.50,79.23 L527.00,79.22 L527.50,79.21 L528.00,79.22 L528.50,79.20 L529.00,79.21 L529.50,79.17 L530.00,79.12 L530.50,79.07 L531.00,78.98 L531.50,78.88 L532.00,78.73 L532.50,78.64 L533.00,78.53 L533.50,78.44 L534.00,78.45 L534.50,78.44 L535.00,78.55 L535.50,78.65 L536.00,78.76 L536.50,78.88 L537.00,78.96 L537.50,79.05 L538.00,79.12 L538.50,79.18 L539.00,79.20 L539.50,79.23 L540.00,79.22 L540.50,79.24 L541.00,79.25 L541.50,79.23 L542.00,79.26 L542.50,79.25 L543.00,79.22 L543.50,79.26 L544.00,79.26 L544.50,79.26 L545.00,79.26 L545.50,79.25 L546.00,79.26 L546.50,79.26 L547.00,79.26 L547.50,79.26 L548.00,79.25 L548.50,79.26 L549.00,79.26 L549.50,79.24 L550.00,79.27 L550.50,79.27 L551.00,79.24 L551.50,79.26 L552.00,79.25 L552.50,79.28 L553.00,79.26 L553.50,79.25 L554.00,79.27 L554.50,79.25 L555.00,79.26 L555.50,79.27 L556.00,79.24 L556.50,79.27 L557.00,79.27 L557.50,79.27 L558.00,79.28 L558.50,79.26 L559.00,79.27 L559.50,79.27 L560.00,79.27 L560.50,79.25 L561.00,79.26 L561.50,79.26 L562.00,79.28 L562.50,79.28 L563.00,79.28 L563.50,79.30 L564.00,79.30 L564.50,79.26 L565.00,79.30 L565.50,79.27 L566.00,79.28 L566.50,79.27 L567.00,79.31 L567.50,79.30 L568.00,79.28 L568.50,79.31 L569.00,79.31 L569.50,79.30 L570.00,79.31 L570.50,79.31 L571.00,79.28 L571.50,79.31 L572.00,79.27 L572.50,79.28 L573.00,79.31 L573.50,79.26 L574.00,79.28 L574.50,79.26 L575.00,79.23 L575.50,79.22 L576.00,79.15 L576.50,79.09 L577.00,78.98 L577.50,78.80 L578.00,78.60 L578.50,78.34 L579.00,77.97 L579.50,77.51 L580.00,76.97 L580.50,76.26 L581.00,75.45 L581.50,74.49 L582.00,73.40 L582.50,72.21 L583.00,70.95 L583.50,69.64 L584.00,68.34 L584.50,67.11 L585.00,65.99 L585.50,65.06 L586.00,64.37 L586.50,63.94 L587.00,63.77 L587.50,63.95 L588.00,64.39 L588.50,65.06 L589.00,66.00 L589.50,67.12 L590.00,68.33 L590.50,69.62 L591.00,70.91 L591.50,72.17 L592.00,73.33 L592.50,74.36 L593.00,75.26 L593.50,76.00 L594.00,76.55 L594.50,76.91 L595.00,77.03 L595.50,76.94 L596.00,76.69 L596.50,76.19 L597.00,75.53 L597.50,74.75 L598.00,73.92 L598.50,73.05 L599.00,72.30 L599.50,71.71 L600.00,71.33 L600.50,71.25 L601.00,71.46 L601.50,71.93 L602.00,72.63 L602.50,73.49 L603.00,74.43 L603.50,75.31 L604.00,76.17 L604.50,76.93 L605.00,77.58 L605.50,78.11 L606.00,78.48 L606.50,78.76 L607.00,78.93 L607.50,79.06 L608.00,79.15 L608.50,79.16 L609.00,79.19 L609.50,79.21 L610.00,79.24 L610.50,79.25 L611.00,79.25 L611.50,79.23 L612.00,79.23 L612.50,79.25 L613.00,79.22 L613.50,79.24 L614.00,79.24 L614.50,79.24 L615.00,79.22 L615.50,79.23 L616.00,79.22 L616.50,79.24 L617.00,79.20 L617.50,79.20 L618.00,79.15 L618.50,79.15 L619.00,79.11 L619.50,79.05 L620.00,78.99 L620.50,78.91 L621.00,78.80 L621.50,78.74 L622.00,78.62 L622.50,78.52 L623.00,78.42 L623.50,78.35 L624.00,78.29 L624.50,78.26 L625.00,78.24 L625.50,78.26 L626.00,78.30 L626.50,78.35 L627.00,78.44 L627.50,78.49 L628.00,78.42 L628.50,78.00 L629.00,76.90 L629.50,75.20 L630.00,73.77 L630.50,73.70 L631.00,75.04 L631.00,80.00 Z" stroke="none" stroke-width="1" fill="#5bc5ec"/>
<line x1="307.00" y1="79.60" x2="631.00" y2="79.60" stroke="#5bc5ec" stroke-width="0.8"/>
<text transform="translate(633.65,45.40) scale(1,1.04)" font-size="9.36" fill="#111" color="#111">MB ATAC</text>
<text transform="translate(633.96,71.60) scale(1,1.04)" font-size="8.71" fill="#111" color="#111">CrebB ChIP</text>
<line x1="318.80" y1="88.20" x2="585.00" y2="88.20" stroke="#555" stroke-width="0.7"/>
<path d="M372.70,88.20 L374.00,86.60 L373.60,88.20 L374.00,89.80 Z " stroke="#333" stroke-width="0.35" fill="#333"/>
<path d="M380.10,88.20 L381.40,86.60 L381.00,88.20 L381.40,89.80 Z M382.75,88.20 L384.05,86.60 L383.65,88.20 L384.05,89.80 Z M385.40,88.20 L386.70,86.60 L386.30,88.20 L386.70,89.80 Z M388.05,88.20 L389.35,86.60 L388.95,88.20 L389.35,89.80 Z M390.70,88.20 L392.00,86.60 L391.60,88.20 L392.00,89.80 Z M393.35,88.20 L394.65,86.60 L394.25,88.20 L394.65,89.80 Z M396.00,88.20 L397.30,86.60 L396.90,88.20 L397.30,89.80 Z M398.65,88.20 L399.95,86.60 L399.55,88.20 L399.95,89.80 Z M401.30,88.20 L402.60,86.60 L402.20,88.20 L402.60,89.80 Z M403.95,88.20 L405.25,86.60 L404.85,88.20 L405.25,89.80 Z M406.60,88.20 L407.90,86.60 L407.50,88.20 L407.90,89.80 Z M409.25,88.20 L410.55,86.60 L410.15,88.20 L410.55,89.80 Z M411.90,88.20 L413.20,86.60 L412.80,88.20 L413.20,89.80 Z M414.55,88.20 L415.85,86.60 L415.45,88.20 L415.85,89.80 Z M417.20,88.20 L418.50,86.60 L418.10,88.20 L418.50,89.80 Z M419.85,88.20 L421.15,86.60 L420.75,88.20 L421.15,89.80 Z M422.50,88.20 L423.80,86.60 L423.40,88.20 L423.80,89.80 Z M425.15,88.20 L426.45,86.60 L426.05,88.20 L426.45,89.80 Z M427.80,88.20 L429.10,86.60 L428.70,88.20 L429.10,89.80 Z M430.45,88.20 L431.75,86.60 L431.35,88.20 L431.75,89.80 Z M433.10,88.20 L434.40,86.60 L434.00,88.20 L434.40,89.80 Z M435.75,88.20 L437.05,86.60 L436.65,88.20 L437.05,89.80 Z M438.40,88.20 L439.70,86.60 L439.30,88.20 L439.70,89.80 Z M441.05,88.20 L442.35,86.60 L441.95,88.20 L442.35,89.80 Z M443.70,88.20 L445.00,86.60 L444.60,88.20 L445.00,89.80 Z M446.35,88.20 L447.65,86.60 L447.25,88.20 L447.65,89.80 Z M449.00,88.20 L450.30,86.60 L449.90,88.20 L450.30,89.80 Z M451.65,88.20 L452.95,86.60 L452.55,88.20 L452.95,89.80 Z M454.30,88.20 L455.60,86.60 L455.20,88.20 L455.60,89.80 Z M456.95,88.20 L458.25,86.60 L457.85,88.20 L458.25,89.80 Z M459.60,88.20 L460.90,86.60 L460.50,88.20 L460.90,89.80 Z M462.25,88.20 L463.55,86.60 L463.15,88.20 L463.55,89.80 Z M464.90,88.20 L466.20,86.60 L465.80,88.20 L466.20,89.80 Z M467.55,88.20 L468.85,86.60 L468.45,88.20 L468.85,89.80 Z M470.20,88.20 L471.50,86.60 L471.10,88.20 L471.50,89.80 Z M472.85,88.20 L474.15,86.60 L473.75,88.20 L474.15,89.80 Z M475.50,88.20 L476.80,86.60 L476.40,88.20 L476.80,89.80 Z M478.15,88.20 L479.45,86.60 L479.05,88.20 L479.45,89.80 Z M480.80,88.20 L482.10,86.60 L481.70,88.20 L482.10,89.80 Z M483.45,88.20 L484.75,86.60 L484.35,88.20 L484.75,89.80 Z M486.10,88.20 L487.40,86.60 L487.00,88.20 L487.40,89.80 Z M488.75,88.20 L490.05,86.60 L489.65,88.20 L490.05,89.80 Z M491.40,88.20 L492.70,86.60 L492.30,88.20 L492.70,89.80 Z M494.05,88.20 L495.35,86.60 L494.95,88.20 L495.35,89.80 Z M496.70,88.20 L498.00,86.60 L497.60,88.20 L498.00,89.80 Z M499.35,88.20 L500.65,86.60 L500.25,88.20 L500.65,89.80 Z M502.00,88.20 L503.30,86.60 L502.90,88.20 L503.30,89.80 Z M504.65,88.20 L505.95,86.60 L505.55,88.20 L505.95,89.80 Z M507.30,88.20 L508.60,86.60 L508.20,88.20 L508.60,89.80 Z M509.95,88.20 L511.25,86.60 L510.85,88.20 L511.25,89.80 Z M512.60,88.20 L513.90,86.60 L513.50,88.20 L513.90,89.80 Z M515.25,88.20 L516.55,86.60 L516.15,88.20 L516.55,89.80 Z M517.90,88.20 L519.20,86.60 L518.80,88.20 L519.20,89.80 Z M520.55,88.20 L521.85,86.60 L521.45,88.20 L521.85,89.80 Z M523.20,88.20 L524.50,86.60 L524.10,88.20 L524.50,89.80 Z M525.85,88.20 L527.15,86.60 L526.75,88.20 L527.15,89.80 Z M528.50,88.20 L529.80,86.60 L529.40,88.20 L529.80,89.80 Z M531.15,88.20 L532.45,86.60 L532.05,88.20 L532.45,89.80 Z M533.80,88.20 L535.10,86.60 L534.70,88.20 L535.10,89.80 Z M536.45,88.20 L537.75,86.60 L537.35,88.20 L537.75,89.80 Z M539.10,88.20 L540.40,86.60 L540.00,88.20 L540.40,89.80 Z M541.75,88.20 L543.05,86.60 L542.65,88.20 L543.05,89.80 Z M544.40,88.20 L545.70,86.60 L545.30,88.20 L545.70,89.80 Z M547.05,88.20 L548.35,86.60 L547.95,88.20 L548.35,89.80 Z M549.70,88.20 L551.00,86.60 L550.60,88.20 L551.00,89.80 Z M552.35,88.20 L553.65,86.60 L553.25,88.20 L553.65,89.80 Z M555.00,88.20 L556.30,86.60 L555.90,88.20 L556.30,89.80 Z M557.65,88.20 L558.95,86.60 L558.55,88.20 L558.95,89.80 Z M560.30,88.20 L561.60,86.60 L561.20,88.20 L561.60,89.80 Z M562.95,88.20 L564.25,86.60 L563.85,88.20 L564.25,89.80 Z M565.60,88.20 L566.90,86.60 L566.50,88.20 L566.90,89.80 Z M568.25,88.20 L569.55,86.60 L569.15,88.20 L569.55,89.80 Z M570.90,88.20 L572.20,86.60 L571.80,88.20 L572.20,89.80 Z M573.55,88.20 L574.85,86.60 L574.45,88.20 L574.85,89.80 Z " stroke="#333" stroke-width="0.35" fill="#333"/>
<rect x="318.80" y="86.60" width="29.10" height="3.20" fill="#2b2e83"/>
<rect x="347.90" y="85.20" width="2.00" height="6.00" fill="#2b2e83" rx="0.6"/>
<rect x="351.20" y="85.20" width="9.70" height="6.00" fill="#2b2e83" rx="0.6"/>
<rect x="362.20" y="85.20" width="9.60" height="6.00" fill="#2b2e83" rx="0.6"/>
<rect x="375.90" y="86.90" width="3.00" height="2.60" fill="#2b2e83"/>
<rect x="576.40" y="86.90" width="4.60" height="2.60" fill="#2b2e83"/>
<rect x="582.00" y="86.90" width="3.00" height="2.60" fill="#2b2e83"/>
<line x1="318.80" y1="102.20" x2="585.00" y2="102.20" stroke="#555" stroke-width="0.7"/>
<path d="M372.70,102.20 L374.00,100.60 L373.60,102.20 L374.00,103.80 Z " stroke="#333" stroke-width="0.35" fill="#333"/>
<path d="M380.10,102.20 L381.40,100.60 L381.00,102.20 L381.40,103.80 Z M382.75,102.20 L384.05,100.60 L383.65,102.20 L384.05,103.80 Z M385.40,102.20 L386.70,100.60 L386.30,102.20 L386.70,103.80 Z M388.05,102.20 L389.35,100.60 L388.95,102.20 L389.35,103.80 Z M390.70,102.20 L392.00,100.60 L391.60,102.20 L392.00,103.80 Z M393.35,102.20 L394.65,100.60 L394.25,102.20 L394.65,103.80 Z M396.00,102.20 L397.30,100.60 L396.90,102.20 L397.30,103.80 Z M398.65,102.20 L399.95,100.60 L399.55,102.20 L399.95,103.80 Z M401.30,102.20 L402.60,100.60 L402.20,102.20 L402.60,103.80 Z M403.95,102.20 L405.25,100.60 L404.85,102.20 L405.25,103.80 Z M406.60,102.20 L407.90,100.60 L407.50,102.20 L407.90,103.80 Z M409.25,102.20 L410.55,100.60 L410.15,102.20 L410.55,103.80 Z M411.90,102.20 L413.20,100.60 L412.80,102.20 L413.20,103.80 Z M414.55,102.20 L415.85,100.60 L415.45,102.20 L415.85,103.80 Z M417.20,102.20 L418.50,100.60 L418.10,102.20 L418.50,103.80 Z M419.85,102.20 L421.15,100.60 L420.75,102.20 L421.15,103.80 Z M422.50,102.20 L423.80,100.60 L423.40,102.20 L423.80,103.80 Z M425.15,102.20 L426.45,100.60 L426.05,102.20 L426.45,103.80 Z M427.80,102.20 L429.10,100.60 L428.70,102.20 L429.10,103.80 Z M430.45,102.20 L431.75,100.60 L431.35,102.20 L431.75,103.80 Z M433.10,102.20 L434.40,100.60 L434.00,102.20 L434.40,103.80 Z M435.75,102.20 L437.05,100.60 L436.65,102.20 L437.05,103.80 Z M438.40,102.20 L439.70,100.60 L439.30,102.20 L439.70,103.80 Z M441.05,102.20 L442.35,100.60 L441.95,102.20 L442.35,103.80 Z M443.70,102.20 L445.00,100.60 L444.60,102.20 L445.00,103.80 Z M446.35,102.20 L447.65,100.60 L447.25,102.20 L447.65,103.80 Z M449.00,102.20 L450.30,100.60 L449.90,102.20 L450.30,103.80 Z M451.65,102.20 L452.95,100.60 L452.55,102.20 L452.95,103.80 Z M454.30,102.20 L455.60,100.60 L455.20,102.20 L455.60,103.80 Z M456.95,102.20 L458.25,100.60 L457.85,102.20 L458.25,103.80 Z M459.60,102.20 L460.90,100.60 L460.50,102.20 L460.90,103.80 Z M462.25,102.20 L463.55,100.60 L463.15,102.20 L463.55,103.80 Z M464.90,102.20 L466.20,100.60 L465.80,102.20 L466.20,103.80 Z M467.55,102.20 L468.85,100.60 L468.45,102.20 L468.85,103.80 Z M470.20,102.20 L471.50,100.60 L471.10,102.20 L471.50,103.80 Z M472.85,102.20 L474.15,100.60 L473.75,102.20 L474.15,103.80 Z M475.50,102.20 L476.80,100.60 L476.40,102.20 L476.80,103.80 Z M478.15,102.20 L479.45,100.60 L479.05,102.20 L479.45,103.80 Z M480.80,102.20 L482.10,100.60 L481.70,102.20 L482.10,103.80 Z M483.45,102.20 L484.75,100.60 L484.35,102.20 L484.75,103.80 Z M486.10,102.20 L487.40,100.60 L487.00,102.20 L487.40,103.80 Z M488.75,102.20 L490.05,100.60 L489.65,102.20 L490.05,103.80 Z M491.40,102.20 L492.70,100.60 L492.30,102.20 L492.70,103.80 Z M494.05,102.20 L495.35,100.60 L494.95,102.20 L495.35,103.80 Z M496.70,102.20 L498.00,100.60 L497.60,102.20 L498.00,103.80 Z M499.35,102.20 L500.65,100.60 L500.25,102.20 L500.65,103.80 Z M502.00,102.20 L503.30,100.60 L502.90,102.20 L503.30,103.80 Z M504.65,102.20 L505.95,100.60 L505.55,102.20 L505.95,103.80 Z M507.30,102.20 L508.60,100.60 L508.20,102.20 L508.60,103.80 Z M509.95,102.20 L511.25,100.60 L510.85,102.20 L511.25,103.80 Z M512.60,102.20 L513.90,100.60 L513.50,102.20 L513.90,103.80 Z M515.25,102.20 L516.55,100.60 L516.15,102.20 L516.55,103.80 Z M517.90,102.20 L519.20,100.60 L518.80,102.20 L519.20,103.80 Z M520.55,102.20 L521.85,100.60 L521.45,102.20 L521.85,103.80 Z M523.20,102.20 L524.50,100.60 L524.10,102.20 L524.50,103.80 Z M525.85,102.20 L527.15,100.60 L526.75,102.20 L527.15,103.80 Z M528.50,102.20 L529.80,100.60 L529.40,102.20 L529.80,103.80 Z M531.15,102.20 L532.45,100.60 L532.05,102.20 L532.45,103.80 Z M533.80,102.20 L535.10,100.60 L534.70,102.20 L535.10,103.80 Z M536.45,102.20 L537.75,100.60 L537.35,102.20 L537.75,103.80 Z M539.10,102.20 L540.40,100.60 L540.00,102.20 L540.40,103.80 Z M541.75,102.20 L543.05,100.60 L542.65,102.20 L543.05,103.80 Z M544.40,102.20 L545.70,100.60 L545.30,102.20 L545.70,103.80 Z M547.05,102.20 L548.35,100.60 L547.95,102.20 L548.35,103.80 Z M549.70,102.20 L551.00,100.60 L550.60,102.20 L551.00,103.80 Z M552.35,102.20 L553.65,100.60 L553.25,102.20 L553.65,103.80 Z M555.00,102.20 L556.30,100.60 L555.90,102.20 L556.30,103.80 Z M557.65,102.20 L558.95,100.60 L558.55,102.20 L558.95,103.80 Z M560.30,102.20 L561.60,100.60 L561.20,102.20 L561.60,103.80 Z M562.95,102.20 L564.25,100.60 L563.85,102.20 L564.25,103.80 Z M565.60,102.20 L566.90,100.60 L566.50,102.20 L566.90,103.80 Z M568.25,102.20 L569.55,100.60 L569.15,102.20 L569.55,103.80 Z " stroke="#333" stroke-width="0.35" fill="#333"/>
<rect x="318.80" y="100.60" width="29.10" height="3.20" fill="#2b2e83"/>
<rect x="347.90" y="99.20" width="2.00" height="6.00" fill="#2b2e83" rx="0.6"/>
<rect x="351.20" y="99.20" width="9.70" height="6.00" fill="#2b2e83" rx="0.6"/>
<rect x="362.20" y="99.20" width="9.60" height="6.00" fill="#2b2e83" rx="0.6"/>
<rect x="376.20" y="99.20" width="2.70" height="6.00" fill="#2b2e83" rx="0.6"/>
<rect x="572.00" y="99.20" width="3.40" height="6.00" fill="#2b2e83" rx="0.6"/>
<rect x="575.40" y="100.60" width="9.60" height="3.20" fill="#2b2e83"/>
<text transform="translate(633.69,91.00) scale(1,1.04)" font-size="8.94" fill="#111" color="#111">Hr38-RB</text>
<text transform="translate(633.70,105.80) scale(1,1.04)" font-size="8.80" fill="#111" color="#111">Hr38-RD</text>
<text transform="translate(557.88,85.20) scale(1,1.04)" font-size="5.85" fill="#555" color="#555">TSS</text>
<path d="M584,85.2 L584,81.2 L575,81.2" stroke="#111" stroke-width="0.8" fill="none"/>
<path d="M572,81.2 L576.2,79.2 L575.2,81.2 L576.2,83.2 Z" stroke="none" stroke-width="1" fill="#111"/>
<rect x="315.40" y="135.00" width="14.60" height="64.00" fill="#eaf1e8"/>
<rect x="342.40" y="135.00" width="7.60" height="64.00" fill="#eaf1e8"/>
<rect x="353.00" y="135.00" width="8.00" height="64.00" fill="#eaf1e8"/>
<rect x="469.40" y="135.00" width="10.00" height="64.00" fill="#eaf1e8"/>
<rect x="537.60" y="135.00" width="13.40" height="64.00" fill="#eaf1e8"/>
<text transform="translate(474.89,129.20) scale(1,1.15)" font-size="11.43" fill="#000" color="#000" font-weight="bold" font-style="italic">sr</text>
<line x1="310.00" y1="134.50" x2="635.00" y2="134.50" stroke="#333" stroke-width="1"/>
<line x1="324.40" y1="133.00" x2="324.40" y2="134.50" stroke="#222" stroke-width="0.95"/>
<text transform="translate(312.70,142.40) scale(1,1.04)" font-size="7.55" fill="#222" color="#222">18,090</text>
<line x1="393.40" y1="133.00" x2="393.40" y2="134.50" stroke="#222" stroke-width="0.95"/>
<text transform="translate(381.70,142.40) scale(1,1.04)" font-size="7.55" fill="#222" color="#222">18,100</text>
<line x1="462.40" y1="133.00" x2="462.40" y2="134.50" stroke="#222" stroke-width="0.95"/>
<text transform="translate(450.98,142.40) scale(1,1.04)" font-size="7.55" fill="#222" color="#222">18,110</text>
<line x1="531.40" y1="133.00" x2="531.40" y2="134.50" stroke="#222" stroke-width="0.95"/>
<text transform="translate(519.70,142.40) scale(1,1.04)" font-size="7.55" fill="#222" color="#222">18,120</text>
<line x1="600.40" y1="133.00" x2="600.40" y2="134.50" stroke="#222" stroke-width="0.95"/>
<text transform="translate(588.40,142.40) scale(1,1.04)" font-size="7.96" fill="#222" color="#222">18,130 Kb</text>
<text transform="translate(464.43,151.40) scale(1,1.04)" font-size="7.20" fill="#222" color="#222">3R</text>
<line x1="307.00" y1="156.00" x2="307.00" y2="175.00" stroke="#222" stroke-width="0.95"/>
<line x1="305.20" y1="156.00" x2="307.00" y2="156.00" stroke="#222" stroke-width="0.95"/>
<line x1="305.20" y1="175.00" x2="307.00" y2="175.00" stroke="#222" stroke-width="0.95"/>
<text transform="translate(287.54,158.60) scale(1,1.04)" font-size="7.70" fill="#222" color="#222">2500</text>
<text transform="translate(300.40,177.70) scale(1,1.04)" font-size="7.70" fill="#222" color="#222">0</text>
<line x1="307.00" y1="181.00" x2="307.00" y2="198.80" stroke="#222" stroke-width="0.95"/>
<line x1="305.20" y1="181.00" x2="307.00" y2="181.00" stroke="#222" stroke-width="0.95"/>
<line x1="305.20" y1="198.80" x2="307.00" y2="198.80" stroke="#222" stroke-width="0.95"/>
<text transform="translate(291.85,184.50) scale(1,1.04)" font-size="7.70" fill="#222" color="#222">400</text>
<text transform="translate(300.40,201.50) scale(1,1.04)" font-size="7.70" fill="#222" color="#222">0</text>
<text transform="translate(276.60,177.50) rotate(-90) translate(-31.69,3.21) scale(1,1.04)" x="0" y="0" font-size="8.62" fill="#333" color="#333">Normalized read</text>
<text transform="translate(284.60,178.80) rotate(-90) translate(-18.10,1.51) scale(1,1.04)" x="0" y="0" font-size="8.81" fill="#333" color="#333">coverage</text>
<path d="M310.00,175.60 L310.00,174.08 L310.50,173.95 L311.00,174.01 L311.50,173.91 L312.00,173.90 L312.50,174.10 L313.00,174.10 L313.50,173.78 L314.00,173.97 L314.50,173.95 L315.00,173.62 L315.50,173.75 L316.00,173.48 L316.50,173.38 L317.00,172.84 L317.50,172.17 L318.00,170.59 L318.50,168.61 L319.00,166.63 L319.50,164.78 L320.00,163.93 L320.50,164.41 L321.00,165.34 L321.50,166.99 L322.00,168.56 L322.50,169.73 L323.00,170.07 L323.50,170.59 L324.00,170.75 L324.50,170.93 L325.00,171.24 L325.50,171.44 L326.00,171.94 L326.50,172.08 L327.00,172.49 L327.50,172.56 L328.00,172.80 L328.50,173.28 L329.00,173.41 L329.50,173.49 L330.00,173.30 L330.50,173.56 L331.00,173.53 L331.50,173.68 L332.00,173.62 L332.50,173.67 L333.00,173.69 L333.50,173.60 L334.00,173.60 L334.50,173.48 L335.00,173.56 L335.50,173.47 L336.00,173.49 L336.50,173.44 L337.00,173.55 L337.50,173.73 L338.00,173.44 L338.50,173.36 L339.00,173.31 L339.50,173.33 L340.00,173.11 L340.50,173.09 L341.00,172.59 L341.50,172.39 L342.00,172.20 L342.50,172.03 L343.00,171.57 L343.50,171.46 L344.00,171.86 L344.50,171.77 L345.00,172.17 L345.50,172.57 L346.00,172.82 L346.50,172.91 L347.00,173.09 L347.50,173.57 L348.00,173.47 L348.50,173.77 L349.00,173.56 L349.50,173.74 L350.00,173.55 L350.50,173.52 L351.00,173.71 L351.50,173.53 L352.00,173.78 L352.50,173.85 L353.00,173.60 L353.50,173.70 L354.00,173.45 L354.50,173.06 L355.00,172.54 L355.50,172.16 L356.00,171.59 L356.50,170.71 L357.00,170.52 L357.50,170.14 L358.00,170.32 L358.50,170.93 L359.00,171.48 L359.50,172.09 L360.00,172.62 L360.50,173.09 L361.00,173.43 L361.50,173.62 L362.00,173.62 L362.50,173.85 L363.00,173.92 L363.50,173.83 L364.00,174.02 L364.50,174.01 L365.00,173.76 L365.50,173.94 L366.00,173.94 L366.50,174.15 L367.00,174.01 L367.50,173.95 L368.00,174.17 L368.50,173.96 L369.00,173.96 L369.50,174.18 L370.00,173.97 L370.50,174.03 L371.00,173.95 L371.50,174.07 L372.00,173.92 L372.50,173.87 L373.00,174.08 L373.50,173.97 L374.00,173.62 L374.50,173.35 L375.00,173.45 L375.50,173.20 L376.00,173.00 L376.50,173.00 L377.00,172.95 L377.50,173.01 L378.00,173.10 L378.50,173.17 L379.00,173.46 L379.50,173.61 L380.00,173.63 L380.50,174.04 L381.00,173.93 L381.50,173.94 L382.00,174.14 L382.50,174.20 L383.00,174.00 L383.50,174.22 L384.00,174.24 L384.50,174.15 L385.00,174.05 L385.50,174.27 L386.00,174.19 L386.50,174.18 L387.00,173.99 L387.50,174.14 L388.00,173.98 L388.50,174.23 L389.00,174.17 L389.50,174.05 L390.00,173.96 L390.50,174.11 L391.00,174.19 L391.50,174.23 L392.00,174.07 L392.50,174.19 L393.00,173.96 L393.50,173.94 L394.00,174.18 L394.50,174.14 L395.00,173.93 L395.50,173.99 L396.00,173.92 L396.50,174.09 L397.00,174.16 L397.50,174.09 L398.00,173.90 L398.50,174.09 L399.00,174.05 L399.50,174.02 L400.00,174.01 L400.50,174.00 L401.00,173.80 L401.50,174.08 L402.00,174.13 L402.50,173.77 L403.00,173.78 L403.50,173.73 L404.00,173.93 L404.50,173.73 L405.00,173.73 L405.50,173.99 L406.00,173.78 L406.50,173.74 L407.00,173.80 L407.50,173.84 L408.00,173.92 L408.50,173.89 L409.00,173.92 L409.50,173.98 L410.00,173.77 L410.50,173.88 L411.00,173.67 L411.50,173.95 L412.00,173.62 L412.50,173.69 L413.00,173.60 L413.50,173.60 L414.00,173.59 L414.50,173.71 L415.00,173.91 L415.50,173.63 L416.00,173.84 L416.50,173.78 L417.00,173.64 L417.50,173.68 L418.00,173.72 L418.50,173.52 L419.00,173.63 L419.50,173.73 L420.00,173.76 L420.50,173.53 L421.00,173.67 L421.50,173.55 L422.00,173.71 L422.50,173.76 L423.00,173.63 L423.50,173.52 L424.00,173.76 L424.50,173.52 L425.00,173.47 L425.50,173.52 L426.00,173.51 L426.50,173.81 L427.00,173.58 L427.50,173.49 L428.00,173.79 L428.50,173.71 L429.00,173.71 L429.50,173.62 L430.00,173.66 L430.50,173.64 L431.00,173.53 L431.50,173.82 L432.00,173.80 L432.50,173.78 L433.00,173.78 L433.50,173.80 L434.00,173.47 L434.50,173.51 L435.00,173.81 L435.50,173.65 L436.00,173.73 L436.50,173.73 L437.00,173.72 L437.50,173.62 L438.00,173.65 L438.50,173.74 L439.00,173.81 L439.50,173.76 L440.00,173.84 L440.50,173.69 L441.00,173.64 L441.50,173.77 L442.00,173.89 L442.50,173.86 L443.00,173.79 L443.50,173.71 L444.00,173.65 L444.50,173.81 L445.00,173.66 L445.50,173.74 L446.00,173.82 L446.50,173.85 L447.00,173.81 L447.50,173.74 L448.00,173.86 L448.50,173.76 L449.00,173.86 L449.50,173.95 L450.00,173.85 L450.50,173.80 L451.00,174.04 L451.50,173.92 L452.00,173.92 L452.50,173.76 L453.00,173.75 L453.50,173.97 L454.00,173.78 L454.50,173.83 L455.00,174.04 L455.50,173.97 L456.00,174.10 L456.50,173.85 L457.00,173.92 L457.50,173.84 L458.00,173.89 L458.50,173.94 L459.00,173.92 L459.50,173.99 L460.00,174.17 L460.50,174.00 L461.00,174.22 L461.50,174.18 L462.00,173.95 L462.50,174.23 L463.00,174.22 L463.50,174.22 L464.00,173.93 L464.50,174.20 L465.00,174.26 L465.50,173.96 L466.00,174.24 L466.50,173.97 L467.00,174.04 L467.50,173.98 L468.00,173.93 L468.50,174.06 L469.00,173.95 L469.50,174.18 L470.00,173.80 L470.50,173.69 L471.00,173.28 L471.50,172.99 L472.00,172.02 L472.50,171.02 L473.00,170.27 L473.50,169.07 L474.00,168.01 L474.50,167.24 L475.00,167.22 L475.50,167.48 L476.00,168.12 L476.50,168.95 L477.00,170.00 L477.50,171.21 L478.00,172.15 L478.50,172.86 L479.00,173.40 L479.50,173.71 L480.00,174.03 L480.50,173.99 L481.00,173.86 L481.50,174.10 L482.00,173.98 L482.50,174.20 L483.00,174.00 L483.50,173.97 L484.00,173.99 L484.50,174.05 L485.00,174.05 L485.50,173.99 L486.00,173.88 L486.50,174.16 L487.00,174.17 L487.50,173.92 L488.00,173.85 L488.50,173.99 L489.00,174.01 L489.50,173.90 L490.00,174.09 L490.50,174.05 L491.00,174.07 L491.50,173.92 L492.00,174.01 L492.50,174.03 L493.00,173.85 L493.50,173.74 L494.00,173.98 L494.50,173.82 L495.00,173.92 L495.50,173.75 L496.00,173.84 L496.50,173.95 L497.00,173.96 L497.50,174.02 L498.00,173.84 L498.50,173.87 L499.00,173.94 L499.50,173.86 L500.00,173.87 L500.50,173.69 L501.00,173.92 L501.50,173.59 L502.00,173.78 L502.50,173.72 L503.00,173.76 L503.50,173.62 L504.00,173.62 L504.50,173.71 L505.00,173.73 L505.50,173.63 L506.00,173.58 L506.50,173.74 L507.00,173.61 L507.50,173.52 L508.00,173.70 L508.50,173.78 L509.00,173.77 L509.50,173.59 L510.00,173.60 L510.50,173.49 L511.00,173.52 L511.50,173.75 L512.00,173.76 L512.50,173.73 L513.00,173.76 L513.50,173.56 L514.00,173.50 L514.50,173.48 L515.00,173.72 L515.50,173.49 L516.00,173.70 L516.50,173.66 L517.00,173.54 L517.50,173.78 L518.00,173.78 L518.50,173.50 L519.00,173.70 L519.50,173.68 L520.00,173.60 L520.50,173.56 L521.00,173.81 L521.50,173.69 L522.00,173.66 L522.50,173.64 L523.00,173.75 L523.50,173.61 L524.00,173.47 L524.50,173.69 L525.00,173.64 L525.50,173.80 L526.00,173.75 L526.50,173.60 L527.00,173.82 L527.50,173.53 L528.00,173.53 L528.50,173.84 L529.00,173.53 L529.50,173.75 L530.00,173.60 L530.50,173.62 L531.00,173.80 L531.50,173.66 L532.00,173.68 L532.50,173.63 L533.00,173.84 L533.50,173.66 L534.00,173.59 L534.50,173.71 L535.00,173.77 L535.50,173.93 L536.00,173.80 L536.50,173.85 L537.00,173.71 L537.50,173.71 L538.00,173.70 L538.50,173.72 L539.00,173.31 L539.50,172.87 L540.00,172.30 L540.50,170.89 L541.00,169.37 L541.50,167.51 L542.00,164.83 L542.50,162.69 L543.00,160.49 L543.50,158.87 L544.00,158.40 L544.50,158.95 L545.00,160.40 L545.50,162.63 L546.00,165.13 L546.50,167.57 L547.00,169.69 L547.50,171.07 L548.00,172.21 L548.50,173.05 L549.00,173.44 L549.50,173.84 L550.00,174.01 L550.50,174.03 L551.00,173.88 L551.50,174.21 L552.00,174.05 L552.50,174.15 L553.00,173.96 L553.50,174.13 L554.00,174.14 L554.50,174.12 L555.00,174.07 L555.50,173.99 L556.00,174.15 L556.50,173.97 L557.00,174.24 L557.50,174.19 L558.00,174.25 L558.50,174.24 L559.00,173.99 L559.50,174.00 L560.00,174.19 L560.50,174.18 L561.00,174.07 L561.50,173.93 L562.00,173.87 L562.50,173.86 L563.00,173.87 L563.50,173.99 L564.00,173.84 L564.50,173.85 L565.00,173.65 L565.50,173.56 L566.00,173.62 L566.50,173.53 L567.00,173.25 L567.50,173.47 L568.00,173.11 L568.50,173.03 L569.00,172.97 L569.50,173.15 L570.00,173.08 L570.50,173.07 L571.00,173.07 L571.50,172.97 L572.00,173.12 L572.50,173.32 L573.00,173.18 L573.50,173.38 L574.00,173.41 L574.50,173.43 L575.00,173.77 L575.50,173.55 L576.00,173.64 L576.50,173.76 L577.00,173.79 L577.50,173.85 L578.00,173.98 L578.50,173.88 L579.00,174.08 L579.50,173.92 L580.00,173.87 L580.50,173.95 L581.00,173.90 L581.50,173.76 L582.00,173.78 L582.50,174.06 L583.00,173.80 L583.50,173.86 L584.00,174.07 L584.50,173.94 L585.00,173.98 L585.50,174.03 L586.00,173.85 L586.50,173.70 L587.00,173.91 L587.50,173.70 L588.00,173.76 L588.50,173.96 L589.00,173.68 L589.50,173.77 L590.00,173.64 L590.50,173.71 L591.00,173.69 L591.50,173.83 L592.00,173.65 L592.50,173.59 L593.00,173.61 L593.50,173.77 L594.00,173.64 L594.50,173.73 L595.00,173.87 L595.50,173.88 L596.00,173.87 L596.50,173.81 L597.00,173.82 L597.50,173.69 L598.00,173.61 L598.50,173.66 L599.00,173.70 L599.50,173.61 L600.00,173.74 L600.50,173.67 L601.00,173.56 L601.50,173.69 L602.00,173.77 L602.50,173.49 L603.00,173.56 L603.50,173.69 L604.00,173.68 L604.50,173.62 L605.00,173.59 L605.50,173.73 L606.00,173.81 L606.50,173.74 L607.00,173.52 L607.50,173.76 L608.00,173.64 L608.50,173.74 L609.00,173.73 L609.50,173.75 L610.00,173.66 L610.50,173.75 L611.00,173.81 L611.50,173.78 L612.00,173.76 L612.50,173.64 L613.00,173.81 L613.50,173.82 L614.00,173.67 L614.50,173.69 L615.00,173.58 L615.50,173.83 L616.00,173.70 L616.50,173.71 L617.00,173.85 L617.50,173.50 L618.00,173.79 L618.50,173.84 L619.00,173.71 L619.50,173.83 L620.00,173.66 L620.50,173.77 L621.00,173.86 L621.50,173.90 L622.00,173.65 L622.50,173.83 L623.00,173.64 L623.50,173.77 L624.00,173.61 L624.50,173.85 L625.00,173.88 L625.50,173.88 L626.00,173.68 L626.50,173.76 L627.00,173.88 L627.50,173.98 L628.00,173.77 L628.50,173.67 L629.00,173.82 L629.50,174.05 L630.00,174.05 L630.50,174.03 L631.00,174.01 L631.50,174.07 L632.00,174.07 L632.50,173.85 L633.00,173.77 L633.50,174.04 L634.00,173.76 L634.50,173.96 L635.00,173.84 L635.00,175.60 Z" stroke="none" stroke-width="1" fill="#fbb829"/>
<path d="M310.00,199.40 L310.00,198.61 L310.50,198.62 L311.00,198.60 L311.50,198.62 L312.00,198.62 L312.50,198.60 L313.00,198.57 L313.50,198.57 L314.00,198.57 L314.50,198.61 L315.00,198.59 L315.50,198.60 L316.00,198.61 L316.50,198.61 L317.00,198.60 L317.50,198.56 L318.00,198.56 L318.50,198.55 L319.00,198.54 L319.50,198.54 L320.00,198.48 L320.50,198.38 L321.00,198.23 L321.50,198.00 L322.00,197.70 L322.50,197.34 L323.00,196.80 L323.50,196.21 L324.00,195.60 L324.50,195.03 L325.00,194.52 L325.50,194.22 L326.00,194.05 L326.50,194.17 L327.00,194.52 L327.50,195.03 L328.00,195.58 L328.50,196.22 L329.00,196.78 L329.50,197.29 L330.00,197.72 L330.50,198.03 L331.00,198.24 L331.50,198.39 L332.00,198.50 L332.50,198.54 L333.00,198.54 L333.50,198.59 L334.00,198.59 L334.50,198.55 L335.00,198.54 L335.50,198.47 L336.00,198.39 L336.50,198.28 L337.00,198.08 L337.50,197.93 L338.00,197.69 L338.50,197.48 L339.00,197.25 L339.50,197.12 L340.00,197.04 L340.50,197.01 L341.00,197.07 L341.50,197.12 L342.00,197.15 L342.50,197.21 L343.00,197.18 L343.50,197.10 L344.00,196.98 L344.50,196.94 L345.00,196.96 L345.50,197.04 L346.00,197.21 L346.50,197.41 L347.00,197.67 L347.50,197.88 L348.00,198.08 L348.50,198.25 L349.00,198.39 L349.50,198.47 L350.00,198.58 L350.50,198.60 L351.00,198.57 L351.50,198.57 L352.00,198.56 L352.50,198.46 L353.00,198.39 L353.50,198.23 L354.00,198.07 L354.50,197.83 L355.00,197.55 L355.50,197.31 L356.00,197.06 L356.50,196.87 L357.00,196.86 L357.50,196.93 L358.00,197.09 L358.50,197.31 L359.00,197.54 L359.50,197.84 L360.00,198.08 L360.50,198.29 L361.00,198.38 L361.50,198.52 L362.00,198.59 L362.50,198.64 L363.00,198.66 L363.50,198.67 L364.00,198.64 L364.50,198.68 L365.00,198.68 L365.50,198.65 L366.00,198.66 L366.50,198.61 L367.00,198.64 L367.50,198.58 L368.00,198.51 L368.50,198.45 L369.00,198.31 L369.50,198.20 L370.00,198.07 L370.50,197.91 L371.00,197.80 L371.50,197.69 L372.00,197.67 L372.50,197.67 L373.00,197.76 L373.50,197.90 L374.00,198.08 L374.50,198.21 L375.00,198.34 L375.50,198.43 L376.00,198.49 L376.50,198.47 L377.00,198.50 L377.50,198.44 L378.00,198.29 L378.50,198.19 L379.00,198.01 L379.50,197.90 L380.00,197.74 L380.50,197.67 L381.00,197.63 L381.50,197.66 L382.00,197.76 L382.50,197.91 L383.00,198.05 L383.50,198.16 L384.00,198.29 L384.50,198.40 L385.00,198.51 L385.50,198.55 L386.00,198.57 L386.50,198.60 L387.00,198.60 L387.50,198.62 L388.00,198.62 L388.50,198.62 L389.00,198.64 L389.50,198.60 L390.00,198.60 L390.50,198.65 L391.00,198.59 L391.50,198.59 L392.00,198.61 L392.50,198.64 L393.00,198.59 L393.50,198.64 L394.00,198.59 L394.50,198.60 L395.00,198.64 L395.50,198.63 L396.00,198.60 L396.50,198.60 L397.00,198.59 L397.50,198.58 L398.00,198.62 L398.50,198.63 L399.00,198.57 L399.50,198.63 L400.00,198.58 L400.50,198.62 L401.00,198.58 L401.50,198.58 L402.00,198.57 L402.50,198.59 L403.00,198.57 L403.50,198.61 L404.00,198.58 L404.50,198.60 L405.00,198.56 L405.50,198.56 L406.00,198.57 L406.50,198.56 L407.00,198.56 L407.50,198.52 L408.00,198.42 L408.50,198.32 L409.00,198.17 L409.50,198.03 L410.00,197.88 L410.50,197.68 L411.00,197.51 L411.50,197.42 L412.00,197.41 L412.50,197.40 L413.00,197.50 L413.50,197.70 L414.00,197.85 L414.50,198.04 L415.00,198.17 L415.50,198.33 L416.00,198.43 L416.50,198.49 L417.00,198.50 L417.50,198.58 L418.00,198.59 L418.50,198.57 L419.00,198.56 L419.50,198.58 L420.00,198.59 L420.50,198.56 L421.00,198.57 L421.50,198.61 L422.00,198.56 L422.50,198.60 L423.00,198.60 L423.50,198.57 L424.00,198.59 L424.50,198.57 L425.00,198.61 L425.50,198.57 L426.00,198.61 L426.50,198.62 L427.00,198.60 L427.50,198.61 L428.00,198.59 L428.50,198.57 L429.00,198.58 L429.50,198.62 L430.00,198.60 L430.50,198.57 L431.00,198.55 L431.50,198.50 L432.00,198.45 L432.50,198.37 L433.00,198.24 L433.50,198.04 L434.00,197.89 L434.50,197.69 L435.00,197.53 L435.50,197.45 L436.00,197.41 L436.50,197.45 L437.00,197.57 L437.50,197.69 L438.00,197.90 L438.50,198.05 L439.00,198.24 L439.50,198.32 L440.00,198.41 L440.50,198.45 L441.00,198.45 L441.50,198.41 L442.00,198.28 L442.50,198.18 L443.00,198.02 L443.50,197.90 L444.00,197.78 L444.50,197.69 L445.00,197.62 L445.50,197.69 L446.00,197.74 L446.50,197.90 L447.00,198.04 L447.50,198.20 L448.00,198.32 L448.50,198.46 L449.00,198.52 L449.50,198.54 L450.00,198.62 L450.50,198.60 L451.00,198.61 L451.50,198.58 L452.00,198.55 L452.50,198.47 L453.00,198.30 L453.50,198.18 L454.00,198.03 L454.50,197.88 L455.00,197.75 L455.50,197.71 L456.00,197.65 L456.50,197.69 L457.00,197.77 L457.50,197.88 L458.00,198.04 L458.50,198.17 L459.00,198.36 L459.50,198.43 L460.00,198.51 L460.50,198.57 L461.00,198.61 L461.50,198.62 L462.00,198.66 L462.50,198.63 L463.00,198.66 L463.50,198.65 L464.00,198.63 L464.50,198.64 L465.00,198.67 L465.50,198.67 L466.00,198.67 L466.50,198.65 L467.00,198.62 L467.50,198.63 L468.00,198.66 L468.50,198.66 L469.00,198.63 L469.50,198.66 L470.00,198.65 L470.50,198.65 L471.00,198.58 L471.50,198.42 L472.00,198.13 L472.50,197.62 L473.00,196.85 L473.50,195.80 L474.00,194.76 L474.50,193.97 L475.00,193.66 L475.50,193.92 L476.00,194.73 L476.50,195.79 L477.00,196.82 L477.50,197.63 L478.00,198.15 L478.50,198.42 L479.00,198.56 L479.50,198.57 L480.00,198.59 L480.50,198.60 L481.00,198.64 L481.50,198.64 L482.00,198.63 L482.50,198.59 L483.00,198.64 L483.50,198.60 L484.00,198.60 L484.50,198.61 L485.00,198.58 L485.50,198.62 L486.00,198.61 L486.50,198.63 L487.00,198.63 L487.50,198.63 L488.00,198.61 L488.50,198.62 L489.00,198.62 L489.50,198.56 L490.00,198.59 L490.50,198.54 L491.00,198.52 L491.50,198.46 L492.00,198.37 L492.50,198.22 L493.00,198.03 L493.50,197.79 L494.00,197.48 L494.50,197.11 L495.00,196.72 L495.50,196.36 L496.00,196.06 L496.50,195.88 L497.00,195.76 L497.50,195.86 L498.00,196.08 L498.50,196.38 L499.00,196.71 L499.50,197.13 L500.00,197.48 L500.50,197.78 L501.00,198.02 L501.50,198.25 L502.00,198.38 L502.50,198.46 L503.00,198.54 L503.50,198.52 L504.00,198.59 L504.50,198.54 L505.00,198.60 L505.50,198.60 L506.00,198.56 L506.50,198.56 L507.00,198.60 L507.50,198.58 L508.00,198.58 L508.50,198.57 L509.00,198.60 L509.50,198.56 L510.00,198.55 L510.50,198.57 L511.00,198.56 L511.50,198.56 L512.00,198.59 L512.50,198.57 L513.00,198.57 L513.50,198.58 L514.00,198.61 L514.50,198.58 L515.00,198.57 L515.50,198.60 L516.00,198.58 L516.50,198.57 L517.00,198.59 L517.50,198.62 L518.00,198.59 L518.50,198.61 L519.00,198.58 L519.50,198.59 L520.00,198.61 L520.50,198.58 L521.00,198.60 L521.50,198.62 L522.00,198.59 L522.50,198.59 L523.00,198.59 L523.50,198.59 L524.00,198.60 L524.50,198.60 L525.00,198.61 L525.50,198.62 L526.00,198.59 L526.50,198.63 L527.00,198.65 L527.50,198.61 L528.00,198.62 L528.50,198.62 L529.00,198.62 L529.50,198.64 L530.00,198.65 L530.50,198.66 L531.00,198.62 L531.50,198.61 L532.00,198.62 L532.50,198.66 L533.00,198.61 L533.50,198.62 L534.00,198.63 L534.50,198.66 L535.00,198.60 L535.50,198.59 L536.00,198.56 L536.50,198.53 L537.00,198.39 L537.50,198.28 L538.00,198.02 L538.50,197.71 L539.00,197.24 L539.50,196.62 L540.00,195.88 L540.50,195.00 L541.00,194.04 L541.50,192.99 L542.00,191.95 L542.50,191.06 L543.00,190.30 L543.50,189.79 L544.00,189.64 L544.50,189.80 L545.00,190.31 L545.50,191.03 L546.00,191.95 L546.50,192.98 L547.00,194.04 L547.50,195.04 L548.00,195.93 L548.50,196.62 L549.00,197.22 L549.50,197.71 L550.00,198.02 L550.50,198.27 L551.00,198.41 L551.50,198.50 L552.00,198.59 L552.50,198.61 L553.00,198.65 L553.50,198.65 L554.00,198.68 L554.50,198.67 L555.00,198.67 L555.50,198.63 L556.00,198.68 L556.50,198.64 L557.00,198.68 L557.50,198.62 L558.00,198.67 L558.50,198.68 L559.00,198.67 L559.50,198.62 L560.00,198.64 L560.50,198.62 L561.00,198.64 L561.50,198.66 L562.00,198.63 L562.50,198.58 L563.00,198.46 L563.50,198.32 L564.00,197.96 L564.50,197.34 L565.00,196.52 L565.50,195.35 L566.00,194.15 L566.50,192.99 L567.00,192.22 L567.50,192.02 L568.00,192.50 L568.50,193.40 L569.00,194.64 L569.50,195.82 L570.00,196.89 L570.50,197.60 L571.00,198.11 L571.50,198.39 L572.00,198.54 L572.50,198.59 L573.00,198.61 L573.50,198.58 L574.00,198.60 L574.50,198.62 L575.00,198.58 L575.50,198.63 L576.00,198.62 L576.50,198.57 L577.00,198.55 L577.50,198.53 L578.00,198.46 L578.50,198.43 L579.00,198.24 L579.50,198.05 L580.00,197.78 L580.50,197.43 L581.00,197.10 L581.50,196.72 L582.00,196.41 L582.50,196.17 L583.00,196.09 L583.50,196.16 L584.00,196.39 L584.50,196.69 L585.00,197.05 L585.50,197.43 L586.00,197.80 L586.50,198.07 L587.00,198.26 L587.50,198.40 L588.00,198.47 L588.50,198.54 L589.00,198.55 L589.50,198.58 L590.00,198.58 L590.50,198.57 L591.00,198.55 L591.50,198.60 L592.00,198.59 L592.50,198.55 L593.00,198.60 L593.50,198.61 L594.00,198.60 L594.50,198.56 L595.00,198.57 L595.50,198.55 L596.00,198.58 L596.50,198.61 L597.00,198.59 L597.50,198.57 L598.00,198.59 L598.50,198.60 L599.00,198.58 L599.50,198.56 L600.00,198.54 L600.50,198.49 L601.00,198.44 L601.50,198.35 L602.00,198.18 L602.50,198.02 L603.00,197.87 L603.50,197.71 L604.00,197.54 L604.50,197.42 L605.00,197.37 L605.50,197.43 L606.00,197.51 L606.50,197.69 L607.00,197.89 L607.50,198.04 L608.00,198.20 L608.50,198.33 L609.00,198.43 L609.50,198.54 L610.00,198.55 L610.50,198.56 L611.00,198.61 L611.50,198.63 L612.00,198.63 L612.50,198.62 L613.00,198.61 L613.50,198.62 L614.00,198.61 L614.50,198.64 L615.00,198.63 L615.50,198.61 L616.00,198.62 L616.50,198.59 L617.00,198.60 L617.50,198.64 L618.00,198.64 L618.50,198.62 L619.00,198.63 L619.50,198.64 L620.00,198.61 L620.50,198.65 L621.00,198.64 L621.50,198.66 L622.00,198.61 L622.50,198.63 L623.00,198.61 L623.50,198.66 L624.00,198.63 L624.50,198.64 L625.00,198.67 L625.50,198.63 L626.00,198.62 L626.50,198.67 L627.00,198.62 L627.50,198.63 L628.00,198.64 L628.50,198.65 L629.00,198.67 L629.50,198.68 L630.00,198.65 L630.50,198.63 L631.00,198.67 L631.50,198.66 L632.00,198.67 L632.50,198.65 L633.00,198.63 L633.50,198.63 L634.00,198.67 L634.50,198.66 L635.00,198.69 L635.00,199.40 Z" stroke="none" stroke-width="1" fill="#5bc5ec"/>
<line x1="310.00" y1="199.00" x2="635.00" y2="199.00" stroke="#5bc5ec" stroke-width="0.8"/>
<text transform="translate(635.26,168.20) scale(1,1.04)" font-size="9.21" fill="#111" color="#111">MB ATAC</text>
<text transform="translate(635.56,192.20) scale(1,1.04)" font-size="8.71" fill="#111" color="#111">CrebB ChIP</text>
<path d="M331.4,207.4 L331.4,204.2 L338.5,204.2" stroke="#111" stroke-width="0.85" fill="none"/>
<path d="M343.0,204.2 L337.4,201.8 L338.4,204.2 L337.4,206.6 Z" stroke="none" stroke-width="1" fill="#111"/>
<text transform="translate(344.98,206.80) scale(1,1.04)" font-size="5.78" fill="#333" color="#333">TSS-1</text>
<line x1="329.40" y1="210.40" x2="626.00" y2="210.40" stroke="#555" stroke-width="0.7"/>
<path d="M336.90,210.40 L335.60,208.80 L336.00,210.40 L335.60,212.00 Z M339.55,210.40 L338.25,208.80 L338.65,210.40 L338.25,212.00 Z M342.20,210.40 L340.90,208.80 L341.30,210.40 L340.90,212.00 Z M344.85,210.40 L343.55,208.80 L343.95,210.40 L343.55,212.00 Z M347.50,210.40 L346.20,208.80 L346.60,210.40 L346.20,212.00 Z M350.15,210.40 L348.85,208.80 L349.25,210.40 L348.85,212.00 Z M352.80,210.40 L351.50,208.80 L351.90,210.40 L351.50,212.00 Z M355.45,210.40 L354.15,208.80 L354.55,210.40 L354.15,212.00 Z M358.10,210.40 L356.80,208.80 L357.20,210.40 L356.80,212.00 Z M360.75,210.40 L359.45,208.80 L359.85,210.40 L359.45,212.00 Z M363.40,210.40 L362.10,208.80 L362.50,210.40 L362.10,212.00 Z " stroke="#333" stroke-width="0.35" fill="#333"/>
<path d="M373.90,210.40 L372.60,208.80 L373.00,210.40 L372.60,212.00 Z M376.55,210.40 L375.25,208.80 L375.65,210.40 L375.25,212.00 Z M379.20,210.40 L377.90,208.80 L378.30,210.40 L377.90,212.00 Z M381.85,210.40 L380.55,208.80 L380.95,210.40 L380.55,212.00 Z M384.50,210.40 L383.20,208.80 L383.60,210.40 L383.20,212.00 Z M387.15,210.40 L385.85,208.80 L386.25,210.40 L385.85,212.00 Z M389.80,210.40 L388.50,208.80 L388.90,210.40 L388.50,212.00 Z M392.45,210.40 L391.15,208.80 L391.55,210.40 L391.15,212.00 Z M395.10,210.40 L393.80,208.80 L394.20,210.40 L393.80,212.00 Z M397.75,210.40 L396.45,208.80 L396.85,210.40 L396.45,212.00 Z M400.40,210.40 L399.10,208.80 L399.50,210.40 L399.10,212.00 Z M403.05,210.40 L401.75,208.80 L402.15,210.40 L401.75,212.00 Z M405.70,210.40 L404.40,208.80 L404.80,210.40 L404.40,212.00 Z M408.35,210.40 L407.05,208.80 L407.45,210.40 L407.05,212.00 Z M411.00,210.40 L409.70,208.80 L410.10,210.40 L409.70,212.00 Z M413.65,210.40 L412.35,208.80 L412.75,210.40 L412.35,212.00 Z M416.30,210.40 L415.00,208.80 L415.40,210.40 L415.00,212.00 Z M418.95,210.40 L417.65,208.80 L418.05,210.40 L417.65,212.00 Z M421.60,210.40 L420.30,208.80 L420.70,210.40 L420.30,212.00 Z M424.25,210.40 L422.95,208.80 L423.35,210.40 L422.95,212.00 Z M426.90,210.40 L425.60,208.80 L426.00,210.40 L425.60,212.00 Z M429.55,210.40 L428.25,208.80 L428.65,210.40 L428.25,212.00 Z M432.20,210.40 L430.90,208.80 L431.30,210.40 L430.90,212.00 Z M434.85,210.40 L433.55,208.80 L433.95,210.40 L433.55,212.00 Z M437.50,210.40 L436.20,208.80 L436.60,210.40 L436.20,212.00 Z M440.15,210.40 L438.85,208.80 L439.25,210.40 L438.85,212.00 Z M442.80,210.40 L441.50,208.80 L441.90,210.40 L441.50,212.00 Z M445.45,210.40 L444.15,208.80 L444.55,210.40 L444.15,212.00 Z M448.10,210.40 L446.80,208.80 L447.20,210.40 L446.80,212.00 Z M450.75,210.40 L449.45,208.80 L449.85,210.40 L449.45,212.00 Z M453.40,210.40 L452.10,208.80 L452.50,210.40 L452.10,212.00 Z M456.05,210.40 L454.75,208.80 L455.15,210.40 L454.75,212.00 Z M458.70,210.40 L457.40,208.80 L457.80,210.40 L457.40,212.00 Z M461.35,210.40 L460.05,208.80 L460.45,210.40 L460.05,212.00 Z M464.00,210.40 L462.70,208.80 L463.10,210.40 L462.70,212.00 Z M466.65,210.40 L465.35,208.80 L465.75,210.40 L465.35,212.00 Z M469.30,210.40 L468.00,208.80 L468.40,210.40 L468.00,212.00 Z M471.95,210.40 L470.65,208.80 L471.05,210.40 L470.65,212.00 Z M474.60,210.40 L473.30,208.80 L473.70,210.40 L473.30,212.00 Z M477.25,210.40 L475.95,208.80 L476.35,210.40 L475.95,212.00 Z M479.90,210.40 L478.60,208.80 L479.00,210.40 L478.60,212.00 Z M482.55,210.40 L481.25,208.80 L481.65,210.40 L481.25,212.00 Z M485.20,210.40 L483.90,208.80 L484.30,210.40 L483.90,212.00 Z M487.85,210.40 L486.55,208.80 L486.95,210.40 L486.55,212.00 Z M490.50,210.40 L489.20,208.80 L489.60,210.40 L489.20,212.00 Z M493.15,210.40 L491.85,208.80 L492.25,210.40 L491.85,212.00 Z M495.80,210.40 L494.50,208.80 L494.90,210.40 L494.50,212.00 Z M498.45,210.40 L497.15,208.80 L497.55,210.40 L497.15,212.00 Z M501.10,210.40 L499.80,208.80 L500.20,210.40 L499.80,212.00 Z M503.75,210.40 L502.45,208.80 L502.85,210.40 L502.45,212.00 Z M506.40,210.40 L505.10,208.80 L505.50,210.40 L505.10,212.00 Z M509.05,210.40 L507.75,208.80 L508.15,210.40 L507.75,212.00 Z M511.70,210.40 L510.40,208.80 L510.80,210.40 L510.40,212.00 Z M514.35,210.40 L513.05,208.80 L513.45,210.40 L513.05,212.00 Z M517.00,210.40 L515.70,208.80 L516.10,210.40 L515.70,212.00 Z M519.65,210.40 L518.35,208.80 L518.75,210.40 L518.35,212.00 Z M522.30,210.40 L521.00,208.80 L521.40,210.40 L521.00,212.00 Z M524.95,210.40 L523.65,208.80 L524.05,210.40 L523.65,212.00 Z M527.60,210.40 L526.30,208.80 L526.70,210.40 L526.30,212.00 Z M530.25,210.40 L528.95,208.80 L529.35,210.40 L528.95,212.00 Z M532.90,210.40 L531.60,208.80 L532.00,210.40 L531.60,212.00 Z M535.55,210.40 L534.25,208.80 L534.65,210.40 L534.25,212.00 Z M538.20,210.40 L536.90,208.80 L537.30,210.40 L536.90,212.00 Z M540.85,210.40 L539.55,208.80 L539.95,210.40 L539.55,212.00 Z M543.50,210.40 L542.20,208.80 L542.60,210.40 L542.20,212.00 Z M546.15,210.40 L544.85,208.80 L545.25,210.40 L544.85,212.00 Z M548.80,210.40 L547.50,208.80 L547.90,210.40 L547.50,212.00 Z M551.45,210.40 L550.15,208.80 L550.55,210.40 L550.15,212.00 Z M554.10,210.40 L552.80,208.80 L553.20,210.40 L552.80,212.00 Z M556.75,210.40 L555.45,208.80 L555.85,210.40 L555.45,212.00 Z M559.40,210.40 L558.10,208.80 L558.50,210.40 L558.10,212.00 Z M562.05,210.40 L560.75,208.80 L561.15,210.40 L560.75,212.00 Z M564.70,210.40 L563.40,208.80 L563.80,210.40 L563.40,212.00 Z M567.35,210.40 L566.05,208.80 L566.45,210.40 L566.05,212.00 Z M570.00,210.40 L568.70,208.80 L569.10,210.40 L568.70,212.00 Z M572.65,210.40 L571.35,208.80 L571.75,210.40 L571.35,212.00 Z M575.30,210.40 L574.00,208.80 L574.40,210.40 L574.00,212.00 Z M577.95,210.40 L576.65,208.80 L577.05,210.40 L576.65,212.00 Z " stroke="#333" stroke-width="0.35" fill="#333"/>
<path d="M586.70,210.40 L585.40,208.80 L585.80,210.40 L585.40,212.00 Z M589.35,210.40 L588.05,208.80 L588.45,210.40 L588.05,212.00 Z M592.00,210.40 L590.70,208.80 L591.10,210.40 L590.70,212.00 Z M594.65,210.40 L593.35,208.80 L593.75,210.40 L593.35,212.00 Z M597.30,210.40 L596.00,208.80 L596.40,210.40 L596.00,212.00 Z M599.95,210.40 L598.65,208.80 L599.05,210.40 L598.65,212.00 Z M602.60,210.40 L601.30,208.80 L601.70,210.40 L601.30,212.00 Z " stroke="#333" stroke-width="0.35" fill="#333"/>
<rect x="329.40" y="209.10" width="5.20" height="2.60" fill="#2b2e83"/>
<path d="M363.40,210.40 L366.20,207.70 L371.60,207.70 L371.60,213.10 L366.20,213.10 Z" stroke="none" stroke-width="1" fill="#2b2e83"/>
<rect x="579.60" y="207.70" width="4.80" height="5.40" fill="#2b2e83" rx="0.6"/>
<rect x="603.00" y="207.70" width="14.00" height="5.40" fill="#2b2e83" rx="0.6"/>
<rect x="617.00" y="208.80" width="9.00" height="3.20" fill="#2b2e83"/>
<line x1="329.40" y1="221.30" x2="626.00" y2="221.30" stroke="#555" stroke-width="0.7"/>
<path d="M336.90,221.30 L335.60,219.70 L336.00,221.30 L335.60,222.90 Z M339.55,221.30 L338.25,219.70 L338.65,221.30 L338.25,222.90 Z M342.20,221.30 L340.90,219.70 L341.30,221.30 L340.90,222.90 Z M344.85,221.30 L343.55,219.70 L343.95,221.30 L343.55,222.90 Z M347.50,221.30 L346.20,219.70 L346.60,221.30 L346.20,222.90 Z M350.15,221.30 L348.85,219.70 L349.25,221.30 L348.85,222.90 Z M352.80,221.30 L351.50,219.70 L351.90,221.30 L351.50,222.90 Z M355.45,221.30 L354.15,219.70 L354.55,221.30 L354.15,222.90 Z M358.10,221.30 L356.80,219.70 L357.20,221.30 L356.80,222.90 Z M360.75,221.30 L359.45,219.70 L359.85,221.30 L359.45,222.90 Z M363.40,221.30 L362.10,219.70 L362.50,221.30 L362.10,222.90 Z " stroke="#333" stroke-width="0.35" fill="#333"/>
<path d="M373.90,221.30 L372.60,219.70 L373.00,221.30 L372.60,222.90 Z M376.55,221.30 L375.25,219.70 L375.65,221.30 L375.25,222.90 Z M379.20,221.30 L377.90,219.70 L378.30,221.30 L377.90,222.90 Z M381.85,221.30 L380.55,219.70 L380.95,221.30 L380.55,222.90 Z M384.50,221.30 L383.20,219.70 L383.60,221.30 L383.20,222.90 Z M387.15,221.30 L385.85,219.70 L386.25,221.30 L385.85,222.90 Z M389.80,221.30 L388.50,219.70 L388.90,221.30 L388.50,222.90 Z M392.45,221.30 L391.15,219.70 L391.55,221.30 L391.15,222.90 Z M395.10,221.30 L393.80,219.70 L394.20,221.30 L393.80,222.90 Z M397.75,221.30 L396.45,219.70 L396.85,221.30 L396.45,222.90 Z M400.40,221.30 L399.10,219.70 L399.50,221.30 L399.10,222.90 Z M403.05,221.30 L401.75,219.70 L402.15,221.30 L401.75,222.90 Z M405.70,221.30 L404.40,219.70 L404.80,221.30 L404.40,222.90 Z M408.35,221.30 L407.05,219.70 L407.45,221.30 L407.05,222.90 Z M411.00,221.30 L409.70,219.70 L410.10,221.30 L409.70,222.90 Z M413.65,221.30 L412.35,219.70 L412.75,221.30 L412.35,222.90 Z M416.30,221.30 L415.00,219.70 L415.40,221.30 L415.00,222.90 Z M418.95,221.30 L417.65,219.70 L418.05,221.30 L417.65,222.90 Z M421.60,221.30 L420.30,219.70 L420.70,221.30 L420.30,222.90 Z M424.25,221.30 L422.95,219.70 L423.35,221.30 L422.95,222.90 Z M426.90,221.30 L425.60,219.70 L426.00,221.30 L425.60,222.90 Z M429.55,221.30 L428.25,219.70 L428.65,221.30 L428.25,222.90 Z M432.20,221.30 L430.90,219.70 L431.30,221.30 L430.90,222.90 Z M434.85,221.30 L433.55,219.70 L433.95,221.30 L433.55,222.90 Z M437.50,221.30 L436.20,219.70 L436.60,221.30 L436.20,222.90 Z M440.15,221.30 L438.85,219.70 L439.25,221.30 L438.85,222.90 Z M442.80,221.30 L441.50,219.70 L441.90,221.30 L441.50,222.90 Z M445.45,221.30 L444.15,219.70 L444.55,221.30 L444.15,222.90 Z M448.10,221.30 L446.80,219.70 L447.20,221.30 L446.80,222.90 Z M450.75,221.30 L449.45,219.70 L449.85,221.30 L449.45,222.90 Z M453.40,221.30 L452.10,219.70 L452.50,221.30 L452.10,222.90 Z M456.05,221.30 L454.75,219.70 L455.15,221.30 L454.75,222.90 Z M458.70,221.30 L457.40,219.70 L457.80,221.30 L457.40,222.90 Z M461.35,221.30 L460.05,219.70 L460.45,221.30 L460.05,222.90 Z M464.00,221.30 L462.70,219.70 L463.10,221.30 L462.70,222.90 Z M466.65,221.30 L465.35,219.70 L465.75,221.30 L465.35,222.90 Z M469.30,221.30 L468.00,219.70 L468.40,221.30 L468.00,222.90 Z M471.95,221.30 L470.65,219.70 L471.05,221.30 L470.65,222.90 Z M474.60,221.30 L473.30,219.70 L473.70,221.30 L473.30,222.90 Z M477.25,221.30 L475.95,219.70 L476.35,221.30 L475.95,222.90 Z M479.90,221.30 L478.60,219.70 L479.00,221.30 L478.60,222.90 Z M482.55,221.30 L481.25,219.70 L481.65,221.30 L481.25,222.90 Z M485.20,221.30 L483.90,219.70 L484.30,221.30 L483.90,222.90 Z M487.85,221.30 L486.55,219.70 L486.95,221.30 L486.55,222.90 Z M490.50,221.30 L489.20,219.70 L489.60,221.30 L489.20,222.90 Z M493.15,221.30 L491.85,219.70 L492.25,221.30 L491.85,222.90 Z M495.80,221.30 L494.50,219.70 L494.90,221.30 L494.50,222.90 Z M498.45,221.30 L497.15,219.70 L497.55,221.30 L497.15,222.90 Z M501.10,221.30 L499.80,219.70 L500.20,221.30 L499.80,222.90 Z M503.75,221.30 L502.45,219.70 L502.85,221.30 L502.45,222.90 Z M506.40,221.30 L505.10,219.70 L505.50,221.30 L505.10,222.90 Z M509.05,221.30 L507.75,219.70 L508.15,221.30 L507.75,222.90 Z M511.70,221.30 L510.40,219.70 L510.80,221.30 L510.40,222.90 Z M514.35,221.30 L513.05,219.70 L513.45,221.30 L513.05,222.90 Z M517.00,221.30 L515.70,219.70 L516.10,221.30 L515.70,222.90 Z M519.65,221.30 L518.35,219.70 L518.75,221.30 L518.35,222.90 Z M522.30,221.30 L521.00,219.70 L521.40,221.30 L521.00,222.90 Z M524.95,221.30 L523.65,219.70 L524.05,221.30 L523.65,222.90 Z M527.60,221.30 L526.30,219.70 L526.70,221.30 L526.30,222.90 Z M530.25,221.30 L528.95,219.70 L529.35,221.30 L528.95,222.90 Z M532.90,221.30 L531.60,219.70 L532.00,221.30 L531.60,222.90 Z M535.55,221.30 L534.25,219.70 L534.65,221.30 L534.25,222.90 Z M538.20,221.30 L536.90,219.70 L537.30,221.30 L536.90,222.90 Z M540.85,221.30 L539.55,219.70 L539.95,221.30 L539.55,222.90 Z M543.50,221.30 L542.20,219.70 L542.60,221.30 L542.20,222.90 Z M546.15,221.30 L544.85,219.70 L545.25,221.30 L544.85,222.90 Z M548.80,221.30 L547.50,219.70 L547.90,221.30 L547.50,222.90 Z M551.45,221.30 L550.15,219.70 L550.55,221.30 L550.15,222.90 Z M554.10,221.30 L552.80,219.70 L553.20,221.30 L552.80,222.90 Z M556.75,221.30 L555.45,219.70 L555.85,221.30 L555.45,222.90 Z M559.40,221.30 L558.10,219.70 L558.50,221.30 L558.10,222.90 Z M562.05,221.30 L560.75,219.70 L561.15,221.30 L560.75,222.90 Z M564.70,221.30 L563.40,219.70 L563.80,221.30 L563.40,222.90 Z M567.35,221.30 L566.05,219.70 L566.45,221.30 L566.05,222.90 Z M570.00,221.30 L568.70,219.70 L569.10,221.30 L568.70,222.90 Z M572.65,221.30 L571.35,219.70 L571.75,221.30 L571.35,222.90 Z M575.30,221.30 L574.00,219.70 L574.40,221.30 L574.00,222.90 Z M577.95,221.30 L576.65,219.70 L577.05,221.30 L576.65,222.90 Z " stroke="#333" stroke-width="0.35" fill="#333"/>
<path d="M586.70,221.30 L585.40,219.70 L585.80,221.30 L585.40,222.90 Z M589.35,221.30 L588.05,219.70 L588.45,221.30 L588.05,222.90 Z M592.00,221.30 L590.70,219.70 L591.10,221.30 L590.70,222.90 Z M594.65,221.30 L593.35,219.70 L593.75,221.30 L593.35,222.90 Z M597.30,221.30 L596.00,219.70 L596.40,221.30 L596.00,222.90 Z M599.95,221.30 L598.65,219.70 L599.05,221.30 L598.65,222.90 Z M602.60,221.30 L601.30,219.70 L601.70,221.30 L601.30,222.90 Z " stroke="#333" stroke-width="0.35" fill="#333"/>
<rect x="329.40" y="220.00" width="5.20" height="2.60" fill="#2b2e83"/>
<path d="M363.40,221.30 L366.20,218.60 L371.60,218.60 L371.60,224.00 L366.20,224.00 Z" stroke="none" stroke-width="1" fill="#2b2e83"/>
<rect x="579.60" y="218.60" width="4.80" height="5.40" fill="#2b2e83" rx="0.6"/>
<rect x="603.00" y="218.60" width="16.00" height="5.40" fill="#2b2e83" rx="0.6"/>
<rect x="619.00" y="219.70" width="7.00" height="3.20" fill="#2b2e83"/>
<path d="M547.3,229.6 L547.3,226.3 L555.2,226.3" stroke="#222" stroke-width="0.75" fill="none"/>
<path d="M558.2,226.3 L554.6,224.9 L555.4,226.3 L554.6,227.7 Z" stroke="none" stroke-width="1" fill="#222"/>
<text transform="translate(560.00,228.30) scale(1,1.04)" font-size="5.94" fill="#333" color="#333">Alt TSS-2</text>
<line x1="545.10" y1="232.30" x2="626.00" y2="232.30" stroke="#555" stroke-width="0.7"/>
<path d="M551.40,232.30 L550.10,230.70 L550.50,232.30 L550.10,233.90 Z M554.05,232.30 L552.75,230.70 L553.15,232.30 L552.75,233.90 Z M556.70,232.30 L555.40,230.70 L555.80,232.30 L555.40,233.90 Z M559.35,232.30 L558.05,230.70 L558.45,232.30 L558.05,233.90 Z M562.00,232.30 L560.70,230.70 L561.10,232.30 L560.70,233.90 Z M564.65,232.30 L563.35,230.70 L563.75,232.30 L563.35,233.90 Z M567.30,232.30 L566.00,230.70 L566.40,232.30 L566.00,233.90 Z M569.95,232.30 L568.65,230.70 L569.05,232.30 L568.65,233.90 Z M572.60,232.30 L571.30,230.70 L571.70,232.30 L571.30,233.90 Z M575.25,232.30 L573.95,230.70 L574.35,232.30 L573.95,233.90 Z M577.90,232.30 L576.60,230.70 L577.00,232.30 L576.60,233.90 Z " stroke="#333" stroke-width="0.35" fill="#333"/>
<path d="M586.70,232.30 L585.40,230.70 L585.80,232.30 L585.40,233.90 Z M589.35,232.30 L588.05,230.70 L588.45,232.30 L588.05,233.90 Z M592.00,232.30 L590.70,230.70 L591.10,232.30 L590.70,233.90 Z M594.65,232.30 L593.35,230.70 L593.75,232.30 L593.35,233.90 Z M597.30,232.30 L596.00,230.70 L596.40,232.30 L596.00,233.90 Z M599.95,232.30 L598.65,230.70 L599.05,232.30 L598.65,233.90 Z M602.60,232.30 L601.30,230.70 L601.70,232.30 L601.30,233.90 Z " stroke="#333" stroke-width="0.35" fill="#333"/>
<rect x="545.10" y="231.00" width="4.00" height="2.60" fill="#2b2e83"/>
<rect x="579.60" y="229.60" width="4.80" height="5.40" fill="#2b2e83" rx="0.6"/>
<rect x="603.00" y="229.60" width="14.00" height="5.40" fill="#2b2e83" rx="0.6"/>
<rect x="617.00" y="230.70" width="9.00" height="3.20" fill="#2b2e83"/>
<line x1="545.10" y1="243.30" x2="626.00" y2="243.30" stroke="#555" stroke-width="0.7"/>
<path d="M551.40,243.30 L550.10,241.70 L550.50,243.30 L550.10,244.90 Z M554.05,243.30 L552.75,241.70 L553.15,243.30 L552.75,244.90 Z M556.70,243.30 L555.40,241.70 L555.80,243.30 L555.40,244.90 Z M559.35,243.30 L558.05,241.70 L558.45,243.30 L558.05,244.90 Z M562.00,243.30 L560.70,241.70 L561.10,243.30 L560.70,244.90 Z M564.65,243.30 L563.35,241.70 L563.75,243.30 L563.35,244.90 Z M567.30,243.30 L566.00,241.70 L566.40,243.30 L566.00,244.90 Z M569.95,243.30 L568.65,241.70 L569.05,243.30 L568.65,244.90 Z M572.60,243.30 L571.30,241.70 L571.70,243.30 L571.30,244.90 Z M575.25,243.30 L573.95,241.70 L574.35,243.30 L573.95,244.90 Z M577.90,243.30 L576.60,241.70 L577.00,243.30 L576.60,244.90 Z " stroke="#333" stroke-width="0.35" fill="#333"/>
<path d="M586.70,243.30 L585.40,241.70 L585.80,243.30 L585.40,244.90 Z M589.35,243.30 L588.05,241.70 L588.45,243.30 L588.05,244.90 Z M592.00,243.30 L590.70,241.70 L591.10,243.30 L590.70,244.90 Z M594.65,243.30 L593.35,241.70 L593.75,243.30 L593.35,244.90 Z M597.30,243.30 L596.00,241.70 L596.40,243.30 L596.00,244.90 Z M599.95,243.30 L598.65,241.70 L599.05,243.30 L598.65,244.90 Z " stroke="#333" stroke-width="0.35" fill="#333"/>
<path d="M606.90,243.30 L605.60,241.70 L606.00,243.30 L605.60,244.90 Z " stroke="#333" stroke-width="0.35" fill="#333"/>
<rect x="545.10" y="242.00" width="4.00" height="2.60" fill="#2b2e83"/>
<rect x="579.60" y="240.60" width="4.80" height="5.40" fill="#2b2e83" rx="0.6"/>
<ellipse cx="603.40" cy="243.30" rx="0.85" ry="2.6" fill="#2b2e83"/>
<rect x="607.60" y="240.60" width="9.40" height="5.40" fill="#2b2e83" rx="0.6"/>
<rect x="617.00" y="241.70" width="9.00" height="3.20" fill="#2b2e83"/>
<line x1="545.10" y1="254.20" x2="634.40" y2="254.20" stroke="#555" stroke-width="0.7"/>
<path d="M551.40,254.20 L550.10,252.60 L550.50,254.20 L550.10,255.80 Z M554.05,254.20 L552.75,252.60 L553.15,254.20 L552.75,255.80 Z M556.70,254.20 L555.40,252.60 L555.80,254.20 L555.40,255.80 Z M559.35,254.20 L558.05,252.60 L558.45,254.20 L558.05,255.80 Z M562.00,254.20 L560.70,252.60 L561.10,254.20 L560.70,255.80 Z M564.65,254.20 L563.35,252.60 L563.75,254.20 L563.35,255.80 Z M567.30,254.20 L566.00,252.60 L566.40,254.20 L566.00,255.80 Z M569.95,254.20 L568.65,252.60 L569.05,254.20 L568.65,255.80 Z M572.60,254.20 L571.30,252.60 L571.70,254.20 L571.30,255.80 Z M575.25,254.20 L573.95,252.60 L574.35,254.20 L573.95,255.80 Z M577.90,254.20 L576.60,252.60 L577.00,254.20 L576.60,255.80 Z " stroke="#333" stroke-width="0.35" fill="#333"/>
<path d="M586.70,254.20 L585.40,252.60 L585.80,254.20 L585.40,255.80 Z M589.35,254.20 L588.05,252.60 L588.45,254.20 L588.05,255.80 Z M592.00,254.20 L590.70,252.60 L591.10,254.20 L590.70,255.80 Z M594.65,254.20 L593.35,252.60 L593.75,254.20 L593.35,255.80 Z M597.30,254.20 L596.00,252.60 L596.40,254.20 L596.00,255.80 Z M599.95,254.20 L598.65,252.60 L599.05,254.20 L598.65,255.80 Z M602.60,254.20 L601.30,252.60 L601.70,254.20 L601.30,255.80 Z " stroke="#333" stroke-width="0.35" fill="#333"/>
<rect x="545.10" y="252.90" width="4.00" height="2.60" fill="#2b2e83"/>
<rect x="579.60" y="251.50" width="4.80" height="5.40" fill="#2b2e83" rx="0.6"/>
<rect x="603.00" y="251.50" width="13.00" height="5.40" fill="#2b2e83" rx="0.6"/>
<rect x="616.00" y="252.60" width="18.40" height="3.20" fill="#2b2e83"/>
<text transform="translate(638.14,213.10) scale(1,1.04)" font-size="8.71" fill="#111" color="#111">sr-RA</text>
<text transform="translate(638.14,224.10) scale(1,1.04)" font-size="8.68" fill="#111" color="#111">sr-RD</text>
<text transform="translate(638.13,235.10) scale(1,1.04)" font-size="8.89" fill="#111" color="#111">sr-RB</text>
<text transform="translate(638.14,246.10) scale(1,1.04)" font-size="8.64" fill="#111" color="#111">sr-RC</text>
<text transform="translate(638.13,257.10) scale(1,1.04)" font-size="8.85" fill="#111" color="#111">sr-RE</text>
<text transform="translate(0.03,147.30) scale(1,1.0)" font-size="15.40" fill="#000" color="#000">C</text>
<text transform="translate(67.82,154.50) scale(1,1.04)" font-size="9.16" fill="#000" color="#000" font-weight="bold" font-style="italic">Hr38</text>
<line x1="35.40" y1="152.60" x2="35.40" y2="233.30" stroke="#000" stroke-width="1.3"/>
<line x1="34.80" y1="232.70" x2="116.90" y2="232.70" stroke="#000" stroke-width="1.3"/>
<line x1="33.00" y1="232.70" x2="35.40" y2="232.70" stroke="#000" stroke-width="1.0"/>
<text transform="translate(29.22,234.60) scale(1,1.04)" font-size="5.40" fill="#222" color="#222" font-weight="bold">0</text>
<line x1="33.00" y1="206.20" x2="35.40" y2="206.20" stroke="#000" stroke-width="1.0"/>
<text transform="translate(29.14,208.10) scale(1,1.04)" font-size="5.40" fill="#222" color="#222" font-weight="bold">1</text>
<line x1="33.00" y1="179.70" x2="35.40" y2="179.70" stroke="#000" stroke-width="1.0"/>
<text transform="translate(29.22,181.60) scale(1,1.04)" font-size="5.40" fill="#222" color="#222" font-weight="bold">2</text>
<line x1="33.00" y1="153.20" x2="35.40" y2="153.20" stroke="#000" stroke-width="1.0"/>
<text transform="translate(29.19,155.10) scale(1,1.04)" font-size="5.40" fill="#222" color="#222" font-weight="bold">3</text>
<rect x="42.90" y="206.20" width="12.20" height="26.50" fill="#e8892b" stroke="#000" stroke-width="1.2"/>
<line x1="49.00" y1="232.70" x2="49.00" y2="236.50" stroke="#000" stroke-width="1.0"/>
<line x1="49.00" y1="206.20" x2="49.00" y2="204.88" stroke="#000" stroke-width="0.9"/>
<line x1="46.20" y1="204.88" x2="51.80" y2="204.88" stroke="#000" stroke-width="0.9"/>
<circle cx="47.20" cy="204.88" r="1.15" fill="#000"/>
<circle cx="49.50" cy="206.73" r="1.15" fill="#000"/>
<circle cx="50.80" cy="205.40" r="1.15" fill="#000"/>
<circle cx="48.80" cy="208.32" r="1.15" fill="#000"/>
<text transform="translate(49.60,239.70) rotate(-45)" x="-19.09" y="2.20" font-size="6.3" fill="#222">STM N</text>
<rect x="61.20" y="206.20" width="12.20" height="26.50" fill="#f0b322" stroke="#000" stroke-width="1.2"/>
<line x1="67.30" y1="232.70" x2="67.30" y2="236.50" stroke="#000" stroke-width="1.0"/>
<line x1="67.30" y1="206.20" x2="67.30" y2="205.14" stroke="#000" stroke-width="0.9"/>
<line x1="64.50" y1="205.14" x2="70.10" y2="205.14" stroke="#000" stroke-width="0.9"/>
<circle cx="67.30" cy="204.08" r="1.15" fill="#000"/>
<circle cx="65.70" cy="206.73" r="1.15" fill="#000"/>
<circle cx="68.90" cy="206.73" r="1.15" fill="#000"/>
<text transform="translate(67.90,239.70) rotate(-45)" x="-18.65" y="2.20" font-size="6.3" fill="#222">STM T</text>
<rect x="79.90" y="206.20" width="12.20" height="26.50" fill="#3268b3" stroke="#000" stroke-width="1.2"/>
<line x1="86.00" y1="232.70" x2="86.00" y2="236.50" stroke="#000" stroke-width="1.0"/>
<line x1="86.00" y1="206.20" x2="86.00" y2="202.22" stroke="#000" stroke-width="0.9"/>
<line x1="83.20" y1="202.22" x2="88.80" y2="202.22" stroke="#000" stroke-width="0.9"/>
<circle cx="86.00" cy="199.04" r="1.15" fill="#000"/>
<circle cx="86.00" cy="211.50" r="1.15" fill="#000"/>
<circle cx="86.00" cy="207.00" r="1.15" fill="#000"/>
<text transform="translate(86.60,239.70) rotate(-45)" x="-17.92" y="2.20" font-size="6.3" fill="#222">LTM N</text>
<rect x="99.10" y="178.38" width="12.20" height="54.32" fill="#389fda" stroke="#000" stroke-width="1.2"/>
<line x1="105.20" y1="232.70" x2="105.20" y2="236.50" stroke="#000" stroke-width="1.0"/>
<line x1="105.20" y1="178.38" x2="105.20" y2="173.60" stroke="#000" stroke-width="0.9"/>
<line x1="102.40" y1="173.60" x2="108.00" y2="173.60" stroke="#000" stroke-width="0.9"/>
<circle cx="105.20" cy="168.57" r="1.15" fill="#000"/>
<circle cx="105.20" cy="181.02" r="1.15" fill="#000"/>
<circle cx="105.20" cy="183.67" r="1.15" fill="#000"/>
<text transform="translate(105.80,239.70) rotate(-45)" x="-17.48" y="2.20" font-size="6.3" fill="#222">LTM T</text>
<line x1="48.30" y1="165.50" x2="67.00" y2="165.50" stroke="#333" stroke-width="0.9"/>
<text transform="translate(50.34,162.70) scale(1,1.04)" font-size="6.54" fill="#333" color="#333">0.43</text>
<line x1="85.50" y1="165.50" x2="105.00" y2="165.50" stroke="#333" stroke-width="0.9"/>
<text transform="translate(85.95,162.70) scale(1,1.04)" font-size="6.32" fill="#333" color="#333">0.0029</text>
<text transform="translate(19.90,192.90) rotate(-90) translate(-42.69,1.80) scale(1,1.04)" x="0" y="0" font-size="6.72" fill="#444" color="#444">relative induction (RT-qPCR)</text>
<text transform="translate(135.57,149.70) scale(1,1.0)" font-size="15.40" fill="#000" color="#000">D</text>
<text transform="translate(201.61,155.80) scale(1,1.04)" font-size="9.08" fill="#000" color="#000" font-weight="bold" font-style="italic">sr</text>
<line x1="165.90" y1="155.00" x2="165.90" y2="235.70" stroke="#000" stroke-width="1.3"/>
<line x1="165.30" y1="235.10" x2="247.40" y2="235.10" stroke="#000" stroke-width="1.3"/>
<line x1="163.50" y1="235.10" x2="165.90" y2="235.10" stroke="#000" stroke-width="1.0"/>
<text transform="translate(159.72,237.00) scale(1,1.04)" font-size="5.40" fill="#222" color="#222" font-weight="bold">0</text>
<line x1="163.50" y1="208.60" x2="165.90" y2="208.60" stroke="#000" stroke-width="1.0"/>
<text transform="translate(159.64,210.50) scale(1,1.04)" font-size="5.40" fill="#222" color="#222" font-weight="bold">1</text>
<line x1="163.50" y1="182.10" x2="165.90" y2="182.10" stroke="#000" stroke-width="1.0"/>
<text transform="translate(159.72,184.00) scale(1,1.04)" font-size="5.40" fill="#222" color="#222" font-weight="bold">2</text>
<line x1="163.50" y1="155.60" x2="165.90" y2="155.60" stroke="#000" stroke-width="1.0"/>
<text transform="translate(159.69,157.50) scale(1,1.04)" font-size="5.40" fill="#222" color="#222" font-weight="bold">3</text>
<rect x="173.40" y="208.60" width="12.20" height="26.50" fill="#e8892b" stroke="#000" stroke-width="1.2"/>
<line x1="179.50" y1="235.10" x2="179.50" y2="238.90" stroke="#000" stroke-width="1.0"/>
<line x1="179.50" y1="208.60" x2="179.50" y2="207.28" stroke="#000" stroke-width="0.9"/>
<line x1="176.70" y1="207.28" x2="182.30" y2="207.28" stroke="#000" stroke-width="0.9"/>
<circle cx="179.50" cy="205.95" r="1.15" fill="#000"/>
<circle cx="179.50" cy="210.72" r="1.15" fill="#000"/>
<circle cx="178.00" cy="208.60" r="1.15" fill="#000"/>
<text transform="translate(180.10,242.10) rotate(-45)" x="-19.09" y="2.20" font-size="6.3" fill="#222">STM N</text>
<rect x="191.70" y="207.01" width="12.20" height="28.09" fill="#f0b322" stroke="#000" stroke-width="1.2"/>
<line x1="197.80" y1="235.10" x2="197.80" y2="238.90" stroke="#000" stroke-width="1.0"/>
<line x1="197.80" y1="207.01" x2="197.80" y2="204.89" stroke="#000" stroke-width="0.9"/>
<line x1="195.00" y1="204.89" x2="200.60" y2="204.89" stroke="#000" stroke-width="0.9"/>
<circle cx="197.80" cy="203.30" r="1.15" fill="#000"/>
<circle cx="196.30" cy="208.07" r="1.15" fill="#000"/>
<circle cx="199.30" cy="208.60" r="1.15" fill="#000"/>
<text transform="translate(198.40,242.10) rotate(-45)" x="-18.65" y="2.20" font-size="6.3" fill="#222">STM T</text>
<rect x="210.40" y="208.60" width="12.20" height="26.50" fill="#3268b3" stroke="#000" stroke-width="1.2"/>
<line x1="216.50" y1="235.10" x2="216.50" y2="238.90" stroke="#000" stroke-width="1.0"/>
<line x1="216.50" y1="208.60" x2="216.50" y2="205.42" stroke="#000" stroke-width="0.9"/>
<line x1="213.70" y1="205.42" x2="219.30" y2="205.42" stroke="#000" stroke-width="0.9"/>
<circle cx="216.50" cy="202.77" r="1.15" fill="#000"/>
<circle cx="216.50" cy="212.57" r="1.15" fill="#000"/>
<circle cx="216.50" cy="208.60" r="1.15" fill="#000"/>
<text transform="translate(217.10,242.10) rotate(-45)" x="-17.92" y="2.20" font-size="6.3" fill="#222">LTM N</text>
<rect x="229.60" y="189.52" width="12.20" height="45.58" fill="#389fda" stroke="#000" stroke-width="1.2"/>
<line x1="235.70" y1="235.10" x2="235.70" y2="238.90" stroke="#000" stroke-width="1.0"/>
<line x1="235.70" y1="189.52" x2="235.70" y2="184.22" stroke="#000" stroke-width="0.9"/>
<line x1="232.90" y1="184.22" x2="238.50" y2="184.22" stroke="#000" stroke-width="0.9"/>
<circle cx="235.70" cy="180.78" r="1.15" fill="#000"/>
<circle cx="235.70" cy="194.02" r="1.15" fill="#000"/>
<circle cx="235.70" cy="195.88" r="1.15" fill="#000"/>
<text transform="translate(236.30,242.10) rotate(-45)" x="-17.48" y="2.20" font-size="6.3" fill="#222">LTM T</text>
<line x1="178.70" y1="165.50" x2="196.90" y2="165.50" stroke="#333" stroke-width="0.9"/>
<text transform="translate(181.36,162.70) scale(1,1.04)" font-size="6.01" fill="#333" color="#333">0.88</text>
<line x1="217.00" y1="165.50" x2="235.00" y2="165.50" stroke="#333" stroke-width="0.9"/>
<text transform="translate(217.85,162.70) scale(1,1.04)" font-size="6.24" fill="#333" color="#333">0.011</text>
<text transform="translate(154.30,195.20) rotate(-90) translate(-42.69,1.80) scale(1,1.04)" x="0" y="0" font-size="6.72" fill="#444" color="#444">relative induction (RT-qPCR)</text>
<text transform="translate(1.97,276.10) scale(1,1.0)" font-size="15.40" fill="#000" color="#000">F</text>
<text transform="translate(18.62,274.37) scale(1,1.04)" font-size="8.97" fill="#111" color="#111" font-weight="bold">MB TIGs bound by</text>
<text transform="translate(31.61,285.15) scale(1,1.04)" font-size="9.13" fill="#111" color="#111" font-weight="bold">Memory TFs</text>
<text transform="translate(47.57,297.97) scale(1,1.04)" font-size="7.92" fill="#222" color="#222">Hr38</text>
<text transform="translate(8.21,311.30) scale(1,1.04)" font-size="7.82" fill="#222" color="#222">CrebB</text>
<text transform="translate(92.04,309.56) scale(1,1.04)" font-size="7.91" fill="#222" color="#222">Sr</text>
<defs><clipPath id="cLav"><circle cx="52.8" cy="344.0" r="35.8"/></clipPath><clipPath id="cRed"><circle cx="69.1" cy="340.0" r="33.5"/></clipPath><clipPath id="cGrn"><circle cx="52.7" cy="319.2" r="16.2"/></clipPath></defs>
<circle cx="52.80" cy="344.00" r="35.80" fill="#cbcbdf"/>
<circle cx="69.10" cy="340.00" r="33.50" fill="#f28a94"/>
<g clip-path="url(#cLav)"><circle cx="69.1" cy="340.0" r="33.5" fill="#dd7486"/></g>
<circle cx="52.70" cy="319.20" r="16.20" fill="#86d4a6"/>
<g clip-path="url(#cGrn)"><circle cx="52.8" cy="344.0" r="35.8" fill="#6ab295"/><circle cx="69.1" cy="340.0" r="33.5" fill="#bf786b"/><g clip-path="url(#cLav)"><circle cx="69.1" cy="340.0" r="33.5" fill="#a8625f"/></g></g>
<text transform="translate(49.62,308.55) scale(1,1.04)" font-size="6.30" fill="#000" color="#000">6</text>
<text transform="translate(60.65,311.25) scale(1,1.04)" font-size="6.30" fill="#000" color="#000">2</text>
<text transform="translate(38.72,317.15) scale(1,1.04)" font-size="6.30" fill="#000" color="#000">6</text>
<text transform="translate(50.20,323.85) scale(1,1.04)" font-size="6.30" fill="#000" color="#000">33</text>
<text transform="translate(24.84,342.75) scale(1,1.04)" font-size="6.30" fill="#000" color="#000">74</text>
<text transform="translate(62.08,342.75) scale(1,1.04)" font-size="6.30" fill="#000" color="#000">122</text>
<text transform="translate(91.47,342.75) scale(1,1.04)" font-size="6.30" fill="#000" color="#000">63</text>
<text transform="translate(130.43,275.90) scale(1,1.0)" font-size="15.40" fill="#000" color="#000">G</text>
<text transform="translate(118.70,332.50) rotate(-90) translate(-27.41,2.37) scale(1,1.04)" x="0" y="0" font-size="6.36" fill="#222" color="#222" font-weight="bold">Relative induction</text>
<text transform="translate(126.40,336.50) rotate(-90) translate(-17.43,1.93) scale(1,1.04)" x="0" y="0" font-size="7.22" fill="#222" color="#222">(Δ z-score)</text>
<rect x="141.50" y="295.00" width="18.50" height="70.50" fill="#e0eedd"/>
<text transform="translate(143.81,284.30) scale(1,1.04)" font-size="7.56" fill="#111" color="#111" font-weight="bold">All TF-bound TIGs</text>
<text transform="translate(139.29,294.10) scale(1,1.04)" font-size="5.62" fill="#222" color="#222">Training</text>
<line x1="160.70" y1="290.10" x2="160.70" y2="294.70" stroke="#222" stroke-width="0.8"/>
<line x1="160.70" y1="292.40" x2="176.90" y2="292.40" stroke="#222" stroke-width="0.8"/>
<path d="M179.8,292.4 L176.0,290.3 L177.0,292.4 L176.0,294.5 Z" stroke="none" stroke-width="1" fill="#222"/>
<text transform="translate(180.53,294.10) scale(1,1.04)" font-size="5.83" fill="#222" color="#222">Post-training</text>
<line x1="140.40" y1="295.00" x2="140.40" y2="368.30" stroke="#777" stroke-width="1.1"/>
<line x1="140.40" y1="368.30" x2="212.90" y2="368.30" stroke="#666" stroke-width="0.9"/>
<rect x="138.70" y="365.50" width="7.70" height="3.00" fill="#000"/>
<rect x="177.80" y="365.50" width="30.50" height="3.00" fill="#000"/>
<text transform="translate(134.44,318.90) scale(1,1.04)" font-size="5.80" fill="#333" color="#333">1</text>
<text transform="translate(134.38,338.00) scale(1,1.04)" font-size="5.80" fill="#333" color="#333">0</text>
<text transform="translate(131.05,354.00) scale(1,1.04)" font-size="5.80" fill="#333" color="#333">−1</text>
<text transform="translate(139.83,373.60) scale(1,1.04)" font-size="5.60" fill="#333" color="#333">0</text>
<text transform="translate(153.05,373.60) scale(1,1.04)" font-size="5.60" fill="#333" color="#333">5</text>
<text transform="translate(164.58,373.60) scale(1,1.04)" font-size="5.60" fill="#333" color="#333">10</text>
<text transform="translate(177.79,373.60) scale(1,1.04)" font-size="5.60" fill="#333" color="#333">15</text>
<text transform="translate(191.05,373.60) scale(1,1.04)" font-size="5.60" fill="#333" color="#333">20</text>
<text transform="translate(204.26,373.60) scale(1,1.04)" font-size="5.60" fill="#333" color="#333">25</text>
<text transform="translate(144.94,382.90) scale(1,1.04)" font-size="5.69" fill="#222" color="#222">Hours After Training Onset</text>
<line x1="141.40" y1="335.80" x2="209.40" y2="335.80" stroke="#555" stroke-width="1.0" stroke-dasharray="2.2,1.8"/>
<line x1="200.60" y1="304.20" x2="209.90" y2="304.20" stroke="#f08a3c" stroke-width="1.3"/>
<text transform="translate(191.98,306.20) scale(1,1.04)" font-size="5.60" fill="#222" color="#222">MB</text>
<line x1="200.60" y1="309.70" x2="209.90" y2="309.70" stroke="#111" stroke-width="1.6"/>
<text transform="translate(191.22,311.70) scale(1,1.04)" font-size="5.60" fill="#222" color="#222">WH</text>
<line x1="200.60" y1="315.20" x2="209.90" y2="315.20" stroke="#222" stroke-width="1.3" stroke-dasharray="1.2,1.0"/>
<text transform="translate(196.52,317.20) scale(1,1.04)" font-size="5.60" fill="#222" color="#222">N</text>
<text transform="translate(184.42,360.66) scale(1,1.04)" font-size="8.87" fill="#222" color="#222">n=306</text>
<polyline points="144.57,314.90 151.43,327.82 160.41,331.05 163.05,332.00 170.44,335.61 178.36,334.66 194.20,335.61 209.51,334.28" stroke="#111" stroke-width="0.9" fill="none" stroke-linejoin="round"/>
<line x1="144.57" y1="312.90" x2="144.57" y2="316.90" stroke="#333" stroke-width="0.55"/>
<line x1="151.43" y1="325.82" x2="151.43" y2="329.82" stroke="#333" stroke-width="0.55"/>
<line x1="160.41" y1="329.05" x2="160.41" y2="333.05" stroke="#333" stroke-width="0.55"/>
<line x1="163.05" y1="330.00" x2="163.05" y2="334.00" stroke="#333" stroke-width="0.55"/>
<line x1="170.44" y1="333.61" x2="170.44" y2="337.61" stroke="#333" stroke-width="0.55"/>
<line x1="178.36" y1="332.66" x2="178.36" y2="336.66" stroke="#333" stroke-width="0.55"/>
<line x1="194.20" y1="333.61" x2="194.20" y2="337.61" stroke="#333" stroke-width="0.55"/>
<line x1="209.51" y1="332.28" x2="209.51" y2="336.28" stroke="#333" stroke-width="0.55"/>
<polyline points="144.57,314.90 151.43,327.82 160.41,325.35 163.05,325.35 170.44,333.52 178.36,331.62 194.20,333.52 209.51,332.19" stroke="#f08a3c" stroke-width="0.9" fill="none" stroke-linejoin="round"/>
<line x1="144.57" y1="312.90" x2="144.57" y2="316.90" stroke="#333" stroke-width="0.55"/>
<line x1="151.43" y1="325.82" x2="151.43" y2="329.82" stroke="#333" stroke-width="0.55"/>
<line x1="160.41" y1="323.35" x2="160.41" y2="327.35" stroke="#333" stroke-width="0.55"/>
<line x1="163.05" y1="323.35" x2="163.05" y2="327.35" stroke="#333" stroke-width="0.55"/>
<line x1="170.44" y1="331.52" x2="170.44" y2="335.52" stroke="#333" stroke-width="0.55"/>
<line x1="178.36" y1="329.62" x2="178.36" y2="333.62" stroke="#333" stroke-width="0.55"/>
<line x1="194.20" y1="331.52" x2="194.20" y2="335.52" stroke="#333" stroke-width="0.55"/>
<line x1="209.51" y1="330.19" x2="209.51" y2="334.19" stroke="#333" stroke-width="0.55"/>
<circle cx="160.70" cy="321.20" r="0.55" fill="#333"/>
<circle cx="160.70" cy="322.20" r="0.45" fill="#333"/>
<circle cx="162.70" cy="321.20" r="0.55" fill="#333"/>
<circle cx="162.70" cy="322.20" r="0.45" fill="#333"/>
<rect x="233.20" y="295.00" width="18.90" height="70.50" fill="#e0eedd"/>
<text transform="translate(237.92,280.36) scale(1,1.04)" font-size="7.64" fill="#111" color="#111" font-weight="bold">TIGs bound by two</text>
<text transform="translate(250.69,288.94) scale(1,1.04)" font-size="7.72" fill="#111" color="#111" font-weight="bold">or more TFs</text>
<text transform="translate(229.79,294.10) scale(1,1.04)" font-size="5.62" fill="#222" color="#222">Training</text>
<line x1="251.20" y1="290.10" x2="251.20" y2="294.70" stroke="#222" stroke-width="0.8"/>
<line x1="251.20" y1="292.40" x2="267.40" y2="292.40" stroke="#222" stroke-width="0.8"/>
<path d="M270.3,292.4 L266.5,290.3 L267.5,292.4 L266.5,294.5 Z" stroke="none" stroke-width="1" fill="#222"/>
<text transform="translate(271.03,294.10) scale(1,1.04)" font-size="5.83" fill="#222" color="#222">Post-training</text>
<line x1="230.90" y1="295.00" x2="230.90" y2="368.30" stroke="#777" stroke-width="1.1"/>
<line x1="230.90" y1="368.30" x2="303.40" y2="368.30" stroke="#666" stroke-width="0.9"/>
<rect x="230.50" y="365.50" width="7.20" height="3.00" fill="#000"/>
<rect x="270.00" y="365.50" width="30.70" height="3.00" fill="#000"/>
<text transform="translate(224.94,318.90) scale(1,1.04)" font-size="5.80" fill="#333" color="#333">1</text>
<text transform="translate(224.88,338.00) scale(1,1.04)" font-size="5.80" fill="#333" color="#333">0</text>
<text transform="translate(221.55,356.90) scale(1,1.04)" font-size="5.80" fill="#333" color="#333">−1</text>
<text transform="translate(232.03,373.60) scale(1,1.04)" font-size="5.60" fill="#333" color="#333">0</text>
<text transform="translate(244.95,373.60) scale(1,1.04)" font-size="5.60" fill="#333" color="#333">5</text>
<text transform="translate(256.18,373.60) scale(1,1.04)" font-size="5.60" fill="#333" color="#333">10</text>
<text transform="translate(269.09,373.60) scale(1,1.04)" font-size="5.60" fill="#333" color="#333">15</text>
<text transform="translate(282.05,373.60) scale(1,1.04)" font-size="5.60" fill="#333" color="#333">20</text>
<text transform="translate(294.96,373.60) scale(1,1.04)" font-size="5.60" fill="#333" color="#333">25</text>
<text transform="translate(235.44,382.90) scale(1,1.04)" font-size="5.69" fill="#222" color="#222">Hours After Training Onset</text>
<line x1="231.90" y1="335.80" x2="299.90" y2="335.80" stroke="#555" stroke-width="1.0" stroke-dasharray="2.2,1.8"/>
<line x1="293.60" y1="305.40" x2="302.90" y2="305.40" stroke="#f08a3c" stroke-width="1.3"/>
<text transform="translate(284.98,307.40) scale(1,1.04)" font-size="5.60" fill="#222" color="#222">MB</text>
<line x1="293.60" y1="310.90" x2="302.90" y2="310.90" stroke="#111" stroke-width="1.6"/>
<text transform="translate(284.22,312.90) scale(1,1.04)" font-size="5.60" fill="#222" color="#222">WH</text>
<line x1="293.60" y1="316.40" x2="302.90" y2="316.40" stroke="#222" stroke-width="1.3" stroke-dasharray="1.2,1.0"/>
<text transform="translate(289.52,318.40) scale(1,1.04)" font-size="5.60" fill="#222" color="#222">N</text>
<text transform="translate(275.22,360.66) scale(1,1.04)" font-size="8.87" fill="#222" color="#222">n=163</text>
<polyline points="236.70,313.00 243.40,327.63 252.18,329.72 254.76,331.05 261.98,336.18 269.72,334.09 285.20,334.09 300.16,334.47" stroke="#111" stroke-width="0.9" fill="none" stroke-linejoin="round"/>
<line x1="236.70" y1="311.00" x2="236.70" y2="315.00" stroke="#333" stroke-width="0.55"/>
<line x1="243.40" y1="325.63" x2="243.40" y2="329.63" stroke="#333" stroke-width="0.55"/>
<line x1="252.18" y1="327.72" x2="252.18" y2="331.72" stroke="#333" stroke-width="0.55"/>
<line x1="254.76" y1="329.05" x2="254.76" y2="333.05" stroke="#333" stroke-width="0.55"/>
<line x1="261.98" y1="334.18" x2="261.98" y2="338.18" stroke="#333" stroke-width="0.55"/>
<line x1="269.72" y1="332.09" x2="269.72" y2="336.09" stroke="#333" stroke-width="0.55"/>
<line x1="285.20" y1="332.09" x2="285.20" y2="336.09" stroke="#333" stroke-width="0.55"/>
<line x1="300.16" y1="332.47" x2="300.16" y2="336.47" stroke="#333" stroke-width="0.55"/>
<polyline points="236.70,315.09 243.40,327.63 252.18,324.97 254.76,324.97 261.98,334.85 269.72,331.24 285.20,334.09 300.16,332.38" stroke="#f08a3c" stroke-width="0.9" fill="none" stroke-linejoin="round"/>
<line x1="236.70" y1="313.09" x2="236.70" y2="317.09" stroke="#333" stroke-width="0.55"/>
<line x1="243.40" y1="325.63" x2="243.40" y2="329.63" stroke="#333" stroke-width="0.55"/>
<line x1="252.18" y1="322.97" x2="252.18" y2="326.97" stroke="#333" stroke-width="0.55"/>
<line x1="254.76" y1="322.97" x2="254.76" y2="326.97" stroke="#333" stroke-width="0.55"/>
<line x1="261.98" y1="332.85" x2="261.98" y2="336.85" stroke="#333" stroke-width="0.55"/>
<line x1="269.72" y1="329.24" x2="269.72" y2="333.24" stroke="#333" stroke-width="0.55"/>
<line x1="285.20" y1="332.09" x2="285.20" y2="336.09" stroke="#333" stroke-width="0.55"/>
<line x1="300.16" y1="330.38" x2="300.16" y2="334.38" stroke="#333" stroke-width="0.55"/>
<circle cx="252.40" cy="320.20" r="0.55" fill="#333"/>
<circle cx="252.40" cy="321.20" r="0.45" fill="#333"/>
<circle cx="254.40" cy="320.20" r="0.55" fill="#333"/>
<circle cx="254.40" cy="321.20" r="0.45" fill="#333"/>
<rect x="325.20" y="295.00" width="18.20" height="70.50" fill="#e0eedd"/>
<text transform="translate(327.30,284.93) scale(1,1.04)" font-size="7.47" fill="#111" color="#111" font-weight="bold">CrebB-bound only</text>
<text transform="translate(321.69,294.10) scale(1,1.04)" font-size="5.62" fill="#222" color="#222">Training</text>
<line x1="343.10" y1="290.10" x2="343.10" y2="294.70" stroke="#222" stroke-width="0.8"/>
<line x1="343.10" y1="292.40" x2="359.30" y2="292.40" stroke="#222" stroke-width="0.8"/>
<path d="M362.2,292.4 L358.40000000000003,290.3 L359.40000000000003,292.4 L358.40000000000003,294.5 Z" stroke="none" stroke-width="1" fill="#222"/>
<text transform="translate(362.93,294.10) scale(1,1.04)" font-size="5.83" fill="#222" color="#222">Post-training</text>
<line x1="322.80" y1="295.00" x2="322.80" y2="368.30" stroke="#777" stroke-width="1.1"/>
<line x1="322.80" y1="368.30" x2="395.30" y2="368.30" stroke="#666" stroke-width="0.9"/>
<rect x="322.40" y="365.50" width="7.20" height="3.00" fill="#000"/>
<rect x="361.90" y="365.50" width="30.70" height="3.00" fill="#000"/>
<text transform="translate(316.84,318.90) scale(1,1.04)" font-size="5.80" fill="#333" color="#333">1</text>
<text transform="translate(316.78,338.00) scale(1,1.04)" font-size="5.80" fill="#333" color="#333">0</text>
<text transform="translate(313.45,356.90) scale(1,1.04)" font-size="5.80" fill="#333" color="#333">−1</text>
<text transform="translate(323.43,373.60) scale(1,1.04)" font-size="5.60" fill="#333" color="#333">0</text>
<text transform="translate(336.55,373.60) scale(1,1.04)" font-size="5.60" fill="#333" color="#333">5</text>
<text transform="translate(347.98,373.60) scale(1,1.04)" font-size="5.60" fill="#333" color="#333">10</text>
<text transform="translate(361.09,373.60) scale(1,1.04)" font-size="5.60" fill="#333" color="#333">15</text>
<text transform="translate(374.25,373.60) scale(1,1.04)" font-size="5.60" fill="#333" color="#333">20</text>
<text transform="translate(387.36,373.60) scale(1,1.04)" font-size="5.60" fill="#333" color="#333">25</text>
<text transform="translate(327.34,382.90) scale(1,1.04)" font-size="5.69" fill="#222" color="#222">Hours After Training Onset</text>
<line x1="323.80" y1="335.80" x2="391.80" y2="335.80" stroke="#555" stroke-width="1.0" stroke-dasharray="2.2,1.8"/>
<line x1="384.90" y1="305.40" x2="394.20" y2="305.40" stroke="#f08a3c" stroke-width="1.3"/>
<text transform="translate(376.28,307.40) scale(1,1.04)" font-size="5.60" fill="#222" color="#222">MB</text>
<line x1="384.90" y1="310.90" x2="394.20" y2="310.90" stroke="#111" stroke-width="1.6"/>
<text transform="translate(375.52,312.90) scale(1,1.04)" font-size="5.60" fill="#222" color="#222">WH</text>
<line x1="384.90" y1="316.40" x2="394.20" y2="316.40" stroke="#222" stroke-width="1.3" stroke-dasharray="1.2,1.0"/>
<text transform="translate(380.82,318.40) scale(1,1.04)" font-size="5.60" fill="#222" color="#222">N</text>
<text transform="translate(372.65,360.33) scale(1,1.04)" font-size="8.54" fill="#222" color="#222">n=74</text>
<polyline points="328.14,313.00 334.96,324.78 343.86,333.14 346.48,331.05 353.82,335.42 361.68,337.13 377.40,335.42 392.60,333.14" stroke="#111" stroke-width="0.9" fill="none" stroke-linejoin="round"/>
<line x1="328.14" y1="311.00" x2="328.14" y2="315.00" stroke="#333" stroke-width="0.55"/>
<line x1="334.96" y1="322.78" x2="334.96" y2="326.78" stroke="#333" stroke-width="0.55"/>
<line x1="343.86" y1="331.14" x2="343.86" y2="335.14" stroke="#333" stroke-width="0.55"/>
<line x1="346.48" y1="329.05" x2="346.48" y2="333.05" stroke="#333" stroke-width="0.55"/>
<line x1="353.82" y1="333.42" x2="353.82" y2="337.42" stroke="#333" stroke-width="0.55"/>
<line x1="361.68" y1="335.13" x2="361.68" y2="339.13" stroke="#333" stroke-width="0.55"/>
<line x1="377.40" y1="333.42" x2="377.40" y2="337.42" stroke="#333" stroke-width="0.55"/>
<line x1="392.60" y1="331.14" x2="392.60" y2="335.14" stroke="#333" stroke-width="0.55"/>
<polyline points="328.14,314.33 334.96,325.35 343.86,324.02 346.48,323.26 353.82,333.14 361.68,333.14 377.40,333.14 392.60,330.67" stroke="#f08a3c" stroke-width="0.9" fill="none" stroke-linejoin="round"/>
<line x1="328.14" y1="312.33" x2="328.14" y2="316.33" stroke="#333" stroke-width="0.55"/>
<line x1="334.96" y1="323.35" x2="334.96" y2="327.35" stroke="#333" stroke-width="0.55"/>
<line x1="343.86" y1="322.02" x2="343.86" y2="326.02" stroke="#333" stroke-width="0.55"/>
<line x1="346.48" y1="321.26" x2="346.48" y2="325.26" stroke="#333" stroke-width="0.55"/>
<line x1="353.82" y1="331.14" x2="353.82" y2="335.14" stroke="#333" stroke-width="0.55"/>
<line x1="361.68" y1="331.14" x2="361.68" y2="335.14" stroke="#333" stroke-width="0.55"/>
<line x1="377.40" y1="331.14" x2="377.40" y2="335.14" stroke="#333" stroke-width="0.55"/>
<line x1="392.60" y1="328.67" x2="392.60" y2="332.67" stroke="#333" stroke-width="0.55"/>
<circle cx="343.40" cy="316.40" r="0.55" fill="#333"/>
<circle cx="343.40" cy="317.40" r="0.45" fill="#333"/>
<rect x="413.20" y="295.00" width="18.60" height="70.50" fill="#e0eedd"/>
<text transform="translate(422.77,284.86) scale(1,1.04)" font-size="7.51" fill="#111" color="#111" font-weight="bold">Sr-bound only</text>
<text transform="translate(409.89,294.10) scale(1,1.04)" font-size="5.62" fill="#222" color="#222">Training</text>
<line x1="431.30" y1="290.10" x2="431.30" y2="294.70" stroke="#222" stroke-width="0.8"/>
<line x1="431.30" y1="292.40" x2="447.50" y2="292.40" stroke="#222" stroke-width="0.8"/>
<path d="M450.4,292.4 L446.6,290.3 L447.6,292.4 L446.6,294.5 Z" stroke="none" stroke-width="1" fill="#222"/>
<text transform="translate(451.13,294.10) scale(1,1.04)" font-size="5.83" fill="#222" color="#222">Post-training</text>
<line x1="411.00" y1="295.00" x2="411.00" y2="368.30" stroke="#777" stroke-width="1.1"/>
<line x1="411.00" y1="368.30" x2="483.50" y2="368.30" stroke="#666" stroke-width="0.9"/>
<rect x="410.60" y="365.50" width="7.20" height="3.00" fill="#000"/>
<rect x="450.10" y="365.50" width="30.70" height="3.00" fill="#000"/>
<text transform="translate(405.04,318.90) scale(1,1.04)" font-size="5.80" fill="#333" color="#333">1</text>
<text transform="translate(404.98,338.00) scale(1,1.04)" font-size="5.80" fill="#333" color="#333">0</text>
<text transform="translate(401.65,356.90) scale(1,1.04)" font-size="5.80" fill="#333" color="#333">−1</text>
<text transform="translate(411.83,373.60) scale(1,1.04)" font-size="5.60" fill="#333" color="#333">0</text>
<text transform="translate(424.75,373.60) scale(1,1.04)" font-size="5.60" fill="#333" color="#333">5</text>
<text transform="translate(435.98,373.60) scale(1,1.04)" font-size="5.60" fill="#333" color="#333">10</text>
<text transform="translate(448.89,373.60) scale(1,1.04)" font-size="5.60" fill="#333" color="#333">15</text>
<text transform="translate(461.85,373.60) scale(1,1.04)" font-size="5.60" fill="#333" color="#333">20</text>
<text transform="translate(474.76,373.60) scale(1,1.04)" font-size="5.60" fill="#333" color="#333">25</text>
<text transform="translate(415.54,382.90) scale(1,1.04)" font-size="5.69" fill="#222" color="#222">Hours After Training Onset</text>
<line x1="412.00" y1="335.80" x2="480.00" y2="335.80" stroke="#555" stroke-width="1.0" stroke-dasharray="2.2,1.8"/>
<line x1="472.90" y1="305.40" x2="482.20" y2="305.40" stroke="#f08a3c" stroke-width="1.3"/>
<text transform="translate(464.28,307.40) scale(1,1.04)" font-size="5.60" fill="#222" color="#222">MB</text>
<line x1="472.90" y1="310.90" x2="482.20" y2="310.90" stroke="#111" stroke-width="1.6"/>
<text transform="translate(463.52,312.90) scale(1,1.04)" font-size="5.60" fill="#222" color="#222">WH</text>
<line x1="472.90" y1="316.40" x2="482.20" y2="316.40" stroke="#222" stroke-width="1.3" stroke-dasharray="1.2,1.0"/>
<text transform="translate(468.82,318.40) scale(1,1.04)" font-size="5.60" fill="#222" color="#222">N</text>
<text transform="translate(461.01,360.78) scale(1,1.04)" font-size="9.04" fill="#222" color="#222">n=63</text>
<polyline points="416.50,314.33 423.20,326.68 431.98,328.96 434.56,329.53 441.78,334.09 449.52,334.09 465.00,336.75 479.96,334.47" stroke="#111" stroke-width="0.9" fill="none" stroke-linejoin="round"/>
<line x1="416.50" y1="312.33" x2="416.50" y2="316.33" stroke="#333" stroke-width="0.55"/>
<line x1="423.20" y1="324.68" x2="423.20" y2="328.68" stroke="#333" stroke-width="0.55"/>
<line x1="431.98" y1="326.96" x2="431.98" y2="330.96" stroke="#333" stroke-width="0.55"/>
<line x1="434.56" y1="327.53" x2="434.56" y2="331.53" stroke="#333" stroke-width="0.55"/>
<line x1="441.78" y1="332.09" x2="441.78" y2="336.09" stroke="#333" stroke-width="0.55"/>
<line x1="449.52" y1="332.09" x2="449.52" y2="336.09" stroke="#333" stroke-width="0.55"/>
<line x1="465.00" y1="334.75" x2="465.00" y2="338.75" stroke="#333" stroke-width="0.55"/>
<line x1="479.96" y1="332.47" x2="479.96" y2="336.47" stroke="#333" stroke-width="0.55"/>
<polyline points="416.50,313.00 423.20,325.35 431.98,323.83 434.56,329.34 441.78,333.52 449.52,333.14 465.00,335.42 479.96,334.09" stroke="#f08a3c" stroke-width="0.9" fill="none" stroke-linejoin="round"/>
<line x1="416.50" y1="311.00" x2="416.50" y2="315.00" stroke="#333" stroke-width="0.55"/>
<line x1="423.20" y1="323.35" x2="423.20" y2="327.35" stroke="#333" stroke-width="0.55"/>
<line x1="431.98" y1="321.83" x2="431.98" y2="325.83" stroke="#333" stroke-width="0.55"/>
<line x1="434.56" y1="327.34" x2="434.56" y2="331.34" stroke="#333" stroke-width="0.55"/>
<line x1="441.78" y1="331.52" x2="441.78" y2="335.52" stroke="#333" stroke-width="0.55"/>
<line x1="449.52" y1="331.14" x2="449.52" y2="335.14" stroke="#333" stroke-width="0.55"/>
<line x1="465.00" y1="333.42" x2="465.00" y2="337.42" stroke="#333" stroke-width="0.55"/>
<line x1="479.96" y1="332.09" x2="479.96" y2="336.09" stroke="#333" stroke-width="0.55"/>
<text transform="translate(493.37,275.80) scale(1,1.0)" font-size="15.40" fill="#000" color="#000">H</text>
<rect x="523.00" y="274.60" width="98.00" height="82.40" fill="#fff" stroke="#e2e2e2" stroke-width="0.9"/>
<line x1="528.00" y1="352.40" x2="616.00" y2="352.40" stroke="#dcdcdc" stroke-width="0.7"/>
<line x1="528.00" y1="345.10" x2="616.00" y2="345.10" stroke="#dcdcdc" stroke-width="0.7"/>
<line x1="528.00" y1="337.81" x2="616.00" y2="337.81" stroke="#dcdcdc" stroke-width="0.7"/>
<line x1="528.00" y1="330.51" x2="616.00" y2="330.51" stroke="#dcdcdc" stroke-width="0.7"/>
<line x1="528.00" y1="323.22" x2="616.00" y2="323.22" stroke="#dcdcdc" stroke-width="0.7"/>
<line x1="528.00" y1="315.92" x2="616.00" y2="315.92" stroke="#dcdcdc" stroke-width="0.7"/>
<line x1="528.00" y1="308.62" x2="616.00" y2="308.62" stroke="#dcdcdc" stroke-width="0.7"/>
<line x1="528.00" y1="301.33" x2="616.00" y2="301.33" stroke="#dcdcdc" stroke-width="0.7"/>
<line x1="528.00" y1="294.03" x2="616.00" y2="294.03" stroke="#dcdcdc" stroke-width="0.7"/>
<line x1="528.00" y1="286.74" x2="616.00" y2="286.74" stroke="#dcdcdc" stroke-width="0.7"/>
<line x1="528.00" y1="279.44" x2="616.00" y2="279.44" stroke="#dcdcdc" stroke-width="0.7"/>
<text transform="translate(518.58,354.40) scale(1,1.04)" font-size="5.80" fill="#555" color="#555">0</text>
<text transform="translate(515.37,339.81) scale(1,1.04)" font-size="5.80" fill="#555" color="#555">20</text>
<text transform="translate(515.37,325.22) scale(1,1.04)" font-size="5.80" fill="#555" color="#555">40</text>
<text transform="translate(515.37,310.62) scale(1,1.04)" font-size="5.80" fill="#555" color="#555">60</text>
<text transform="translate(515.37,296.03) scale(1,1.04)" font-size="5.80" fill="#555" color="#555">80</text>
<text transform="translate(512.15,281.44) scale(1,1.04)" font-size="5.80" fill="#555" color="#555">100</text>
<text transform="translate(501.80,312.50) rotate(-90) translate(-27.89,1.96) scale(1,1.04)" x="0" y="0" font-size="7.33" fill="#444" color="#444">Percent of genes</text>
<text transform="translate(510.20,312.20) rotate(-90) translate(-21.97,1.92) scale(1,1.04)" x="0" y="0" font-size="7.17" fill="#444" color="#444">bound by TFs</text>
<rect x="536.40" y="348.82" width="12.20" height="3.58" fill="#0a0a0a" stroke="#151515" stroke-width="0.8"/>
<rect x="536.40" y="345.83" width="12.20" height="2.99" fill="#464646" stroke="#151515" stroke-width="0.8"/>
<rect x="536.40" y="341.38" width="12.20" height="4.45" fill="#a2a2a2" stroke="#151515" stroke-width="0.8"/>
<rect x="536.40" y="334.31" width="12.20" height="7.08" fill="#c9c9c9" stroke="#151515" stroke-width="0.8"/>
<rect x="536.40" y="279.44" width="12.20" height="54.87" fill="#ffffff" stroke="#151515" stroke-width="0.8"/>
<rect x="536.40" y="279.44" width="12.20" height="72.96" fill="none" stroke="#151515" stroke-width="1.0"/>
<rect x="565.60" y="348.75" width="12.20" height="3.65" fill="#0a0a0a" stroke="#151515" stroke-width="0.8"/>
<rect x="565.60" y="345.10" width="12.20" height="3.65" fill="#c9c9c9" stroke="#151515" stroke-width="0.8"/>
<rect x="565.60" y="279.44" width="12.20" height="65.66" fill="#ffffff" stroke="#151515" stroke-width="0.8"/>
<rect x="565.60" y="279.44" width="12.20" height="72.96" fill="none" stroke="#151515" stroke-width="1.0"/>
<rect x="595.40" y="348.75" width="12.20" height="3.65" fill="#0a0a0a" stroke="#151515" stroke-width="0.8"/>
<rect x="595.40" y="319.20" width="12.20" height="29.55" fill="#464646" stroke="#151515" stroke-width="0.8"/>
<rect x="595.40" y="312.27" width="12.20" height="6.93" fill="#a2a2a2" stroke="#151515" stroke-width="0.8"/>
<rect x="595.40" y="308.19" width="12.20" height="4.09" fill="#c9c9c9" stroke="#151515" stroke-width="0.8"/>
<rect x="595.40" y="279.44" width="12.20" height="28.75" fill="#ffffff" stroke="#151515" stroke-width="0.8"/>
<rect x="595.40" y="279.44" width="12.20" height="72.96" fill="none" stroke="#151515" stroke-width="1.0"/>
<text transform="translate(539.00,368.20) scale(1,1.04)" font-size="13.83" fill="#111" color="#111">A</text>
<text transform="translate(566.97,368.20) scale(1,1.04)" font-size="15.33" fill="#111" color="#111">B</text>
<text transform="translate(596.63,368.20) scale(1,1.04)" font-size="15.43" fill="#111" color="#111">C</text>
<text transform="translate(545.71,383.10) scale(1,1.04)" font-size="9.57" fill="#222" color="#222">sc cell cluster</text>
<rect x="625.50" y="292.40" width="7.80" height="7.60" fill="#0a0a0a" stroke="#222" stroke-width="0.9"/>
<text transform="translate(635.93,298.60) scale(1,1.04)" font-size="6.75" fill="#111" color="#111" font-weight="bold">CREB, Sr, Hr38</text>
<rect x="625.50" y="302.50" width="7.80" height="7.60" fill="#464646" stroke="#222" stroke-width="0.9"/>
<text transform="translate(635.93,308.70) scale(1,1.04)" font-size="6.75" fill="#111" color="#111" font-weight="bold">CREB, Sr</text>
<rect x="625.50" y="312.60" width="7.80" height="7.60" fill="#a2a2a2" stroke="#222" stroke-width="0.9"/>
<text transform="translate(635.93,318.80) scale(1,1.04)" font-size="6.75" fill="#111" color="#111" font-weight="bold">CREB only</text>
<rect x="625.50" y="322.70" width="7.80" height="7.60" fill="#c9c9c9" stroke="#222" stroke-width="0.9"/>
<text transform="translate(636.00,328.90) scale(1,1.04)" font-size="6.75" fill="#111" color="#111" font-weight="bold">Sr only</text>
<rect x="625.50" y="332.80" width="7.80" height="7.60" fill="#ffffff" stroke="#222" stroke-width="0.9"/>
<text transform="translate(635.76,339.00) scale(1,1.04)" font-size="6.75" fill="#111" color="#111" font-weight="bold">None</text>
</svg>
</body></html>
